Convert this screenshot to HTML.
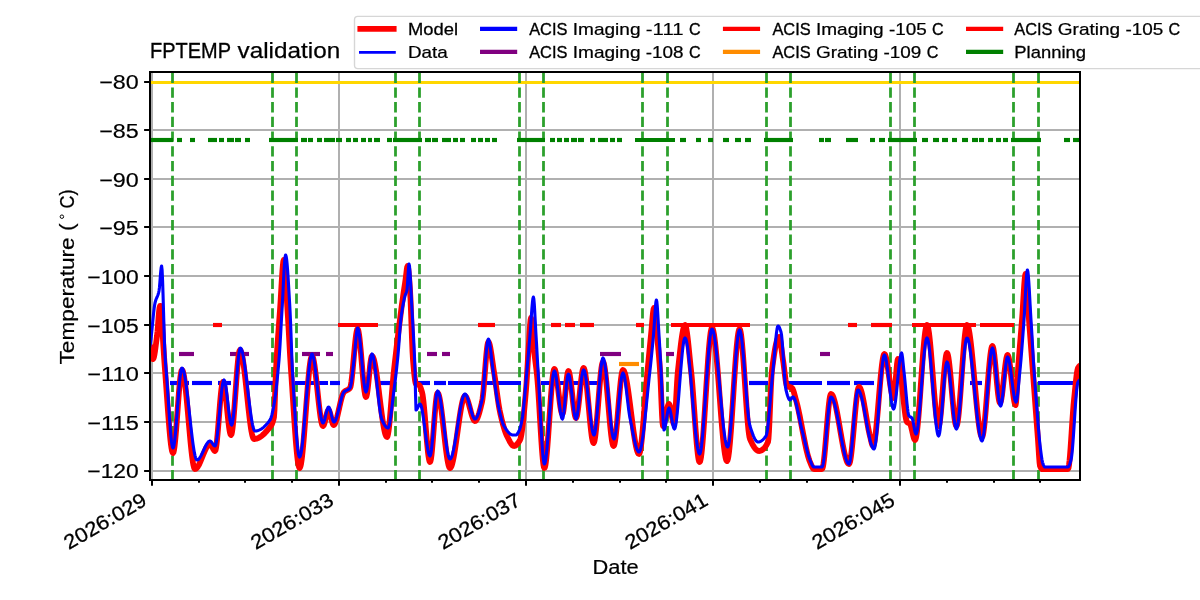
<!DOCTYPE html>
<html><head><meta charset="utf-8"><style>
html,body{margin:0;padding:0;background:#fff;width:1200px;height:600px;overflow:hidden}
svg{display:block;font-family:"Liberation Sans",sans-serif}
text{fill:#000;stroke:#000}
svg{will-change:transform}
</style></head><body>
<svg width="1200" height="600" viewBox="0 0 1200 600">
<rect x="0" y="0" width="1200" height="600" fill="#fff"/>
<defs><clipPath id="ax"><rect x="150.00" y="72.00" width="930.00" height="408.00"/></clipPath></defs>
<g clip-path="url(#ax)">
<line x1="152.00" y1="480.00" x2="152.00" y2="72.00" stroke="#b0b0b0" stroke-width="2.0" fill="none"/>
<line x1="339.00" y1="480.00" x2="339.00" y2="72.00" stroke="#b0b0b0" stroke-width="2.0" fill="none"/>
<line x1="526.00" y1="480.00" x2="526.00" y2="72.00" stroke="#b0b0b0" stroke-width="2.0" fill="none"/>
<line x1="713.00" y1="480.00" x2="713.00" y2="72.00" stroke="#b0b0b0" stroke-width="2.0" fill="none"/>
<line x1="900.00" y1="480.00" x2="900.00" y2="72.00" stroke="#b0b0b0" stroke-width="2.0" fill="none"/>
<line x1="150.00" y1="82.00" x2="1080.00" y2="82.00" stroke="#b0b0b0" stroke-width="2.0" fill="none"/>
<line x1="150.00" y1="130.00" x2="1080.00" y2="130.00" stroke="#b0b0b0" stroke-width="2.0" fill="none"/>
<line x1="150.00" y1="179.00" x2="1080.00" y2="179.00" stroke="#b0b0b0" stroke-width="2.0" fill="none"/>
<line x1="150.00" y1="227.00" x2="1080.00" y2="227.00" stroke="#b0b0b0" stroke-width="2.0" fill="none"/>
<line x1="150.00" y1="276.00" x2="1080.00" y2="276.00" stroke="#b0b0b0" stroke-width="2.0" fill="none"/>
<line x1="150.00" y1="325.00" x2="1080.00" y2="325.00" stroke="#b0b0b0" stroke-width="2.0" fill="none"/>
<line x1="150.00" y1="373.00" x2="1080.00" y2="373.00" stroke="#b0b0b0" stroke-width="2.0" fill="none"/>
<line x1="150.00" y1="422.00" x2="1080.00" y2="422.00" stroke="#b0b0b0" stroke-width="2.0" fill="none"/>
<line x1="150.00" y1="471.00" x2="1080.00" y2="471.00" stroke="#b0b0b0" stroke-width="2.0" fill="none"/>
<line x1="150.00" y1="82.50" x2="1080.00" y2="82.50" stroke="#ffd700" stroke-width="2.78"/>
<line x1="172.50" y1="480.00" x2="172.50" y2="72.00" stroke="#2ca02c" stroke-width="2.78" stroke-dasharray="10.28 4.44" stroke-dashoffset="0.4"/>
<line x1="272.50" y1="480.00" x2="272.50" y2="72.00" stroke="#2ca02c" stroke-width="2.78" stroke-dasharray="10.28 4.44" stroke-dashoffset="0.4"/>
<line x1="296.50" y1="480.00" x2="296.50" y2="72.00" stroke="#2ca02c" stroke-width="2.78" stroke-dasharray="10.28 4.44" stroke-dashoffset="0.4"/>
<line x1="395.50" y1="480.00" x2="395.50" y2="72.00" stroke="#2ca02c" stroke-width="2.78" stroke-dasharray="10.28 4.44" stroke-dashoffset="0.4"/>
<line x1="419.50" y1="480.00" x2="419.50" y2="72.00" stroke="#2ca02c" stroke-width="2.78" stroke-dasharray="10.28 4.44" stroke-dashoffset="0.4"/>
<line x1="519.50" y1="480.00" x2="519.50" y2="72.00" stroke="#2ca02c" stroke-width="2.78" stroke-dasharray="10.28 4.44" stroke-dashoffset="0.4"/>
<line x1="543.50" y1="480.00" x2="543.50" y2="72.00" stroke="#2ca02c" stroke-width="2.78" stroke-dasharray="10.28 4.44" stroke-dashoffset="0.4"/>
<line x1="642.50" y1="480.00" x2="642.50" y2="72.00" stroke="#2ca02c" stroke-width="2.78" stroke-dasharray="10.28 4.44" stroke-dashoffset="0.4"/>
<line x1="667.50" y1="480.00" x2="667.50" y2="72.00" stroke="#2ca02c" stroke-width="2.78" stroke-dasharray="10.28 4.44" stroke-dashoffset="0.4"/>
<line x1="766.50" y1="480.00" x2="766.50" y2="72.00" stroke="#2ca02c" stroke-width="2.78" stroke-dasharray="10.28 4.44" stroke-dashoffset="0.4"/>
<line x1="790.50" y1="480.00" x2="790.50" y2="72.00" stroke="#2ca02c" stroke-width="2.78" stroke-dasharray="10.28 4.44" stroke-dashoffset="0.4"/>
<line x1="890.50" y1="480.00" x2="890.50" y2="72.00" stroke="#2ca02c" stroke-width="2.78" stroke-dasharray="10.28 4.44" stroke-dashoffset="0.4"/>
<line x1="914.50" y1="480.00" x2="914.50" y2="72.00" stroke="#2ca02c" stroke-width="2.78" stroke-dasharray="10.28 4.44" stroke-dashoffset="0.4"/>
<line x1="1013.50" y1="480.00" x2="1013.50" y2="72.00" stroke="#2ca02c" stroke-width="2.78" stroke-dasharray="10.28 4.44" stroke-dashoffset="0.4"/>
<line x1="1038.50" y1="480.00" x2="1038.50" y2="72.00" stroke="#2ca02c" stroke-width="2.78" stroke-dasharray="10.28 4.44" stroke-dashoffset="0.4"/>
<line x1="151.00" y1="140" x2="173.00" y2="140" stroke="#008000" stroke-width="4.17"/>
<line x1="177.00" y1="140" x2="182.00" y2="140" stroke="#008000" stroke-width="4.17"/>
<line x1="190.00" y1="140" x2="195.00" y2="140" stroke="#008000" stroke-width="4.17"/>
<line x1="208.00" y1="140" x2="217.00" y2="140" stroke="#008000" stroke-width="4.17"/>
<line x1="219.00" y1="140" x2="224.00" y2="140" stroke="#008000" stroke-width="4.17"/>
<line x1="227.00" y1="140" x2="234.00" y2="140" stroke="#008000" stroke-width="4.17"/>
<line x1="235.00" y1="140" x2="241.00" y2="140" stroke="#008000" stroke-width="4.17"/>
<line x1="245.00" y1="140" x2="250.00" y2="140" stroke="#008000" stroke-width="4.17"/>
<line x1="269.00" y1="140" x2="298.00" y2="140" stroke="#008000" stroke-width="4.17"/>
<line x1="301.00" y1="140" x2="307.00" y2="140" stroke="#008000" stroke-width="4.17"/>
<line x1="308.00" y1="140" x2="313.00" y2="140" stroke="#008000" stroke-width="4.17"/>
<line x1="317.00" y1="140" x2="322.00" y2="140" stroke="#008000" stroke-width="4.17"/>
<line x1="324.00" y1="140" x2="335.00" y2="140" stroke="#008000" stroke-width="4.17"/>
<line x1="336.00" y1="140" x2="342.00" y2="140" stroke="#008000" stroke-width="4.17"/>
<line x1="346.00" y1="140" x2="351.00" y2="140" stroke="#008000" stroke-width="4.17"/>
<line x1="353.00" y1="140" x2="358.00" y2="140" stroke="#008000" stroke-width="4.17"/>
<line x1="361.00" y1="140" x2="366.00" y2="140" stroke="#008000" stroke-width="4.17"/>
<line x1="368.00" y1="140" x2="372.00" y2="140" stroke="#008000" stroke-width="4.17"/>
<line x1="374.00" y1="140" x2="380.00" y2="140" stroke="#008000" stroke-width="4.17"/>
<line x1="387.00" y1="140" x2="392.00" y2="140" stroke="#008000" stroke-width="4.17"/>
<line x1="393.00" y1="140" x2="422.00" y2="140" stroke="#008000" stroke-width="4.17"/>
<line x1="425.00" y1="140" x2="431.00" y2="140" stroke="#008000" stroke-width="4.17"/>
<line x1="432.00" y1="140" x2="438.00" y2="140" stroke="#008000" stroke-width="4.17"/>
<line x1="442.00" y1="140" x2="451.00" y2="140" stroke="#008000" stroke-width="4.17"/>
<line x1="453.00" y1="140" x2="458.00" y2="140" stroke="#008000" stroke-width="4.17"/>
<line x1="460.00" y1="140" x2="465.00" y2="140" stroke="#008000" stroke-width="4.17"/>
<line x1="471.00" y1="140" x2="476.00" y2="140" stroke="#008000" stroke-width="4.17"/>
<line x1="478.00" y1="140" x2="483.00" y2="140" stroke="#008000" stroke-width="4.17"/>
<line x1="485.00" y1="140" x2="490.00" y2="140" stroke="#008000" stroke-width="4.17"/>
<line x1="492.00" y1="140" x2="497.00" y2="140" stroke="#008000" stroke-width="4.17"/>
<line x1="517.00" y1="140" x2="545.00" y2="140" stroke="#008000" stroke-width="4.17"/>
<line x1="550.00" y1="140" x2="555.00" y2="140" stroke="#008000" stroke-width="4.17"/>
<line x1="557.00" y1="140" x2="562.00" y2="140" stroke="#008000" stroke-width="4.17"/>
<line x1="564.00" y1="140" x2="569.00" y2="140" stroke="#008000" stroke-width="4.17"/>
<line x1="571.00" y1="140" x2="577.00" y2="140" stroke="#008000" stroke-width="4.17"/>
<line x1="578.00" y1="140" x2="584.00" y2="140" stroke="#008000" stroke-width="4.17"/>
<line x1="590.00" y1="140" x2="595.00" y2="140" stroke="#008000" stroke-width="4.17"/>
<line x1="598.00" y1="140" x2="608.00" y2="140" stroke="#008000" stroke-width="4.17"/>
<line x1="610.00" y1="140" x2="615.00" y2="140" stroke="#008000" stroke-width="4.17"/>
<line x1="617.00" y1="140" x2="622.00" y2="140" stroke="#008000" stroke-width="4.17"/>
<line x1="635.00" y1="140" x2="675.00" y2="140" stroke="#008000" stroke-width="4.17"/>
<line x1="680.00" y1="140" x2="686.00" y2="140" stroke="#008000" stroke-width="4.17"/>
<line x1="696.00" y1="140" x2="701.00" y2="140" stroke="#008000" stroke-width="4.17"/>
<line x1="708.00" y1="140" x2="713.00" y2="140" stroke="#008000" stroke-width="4.17"/>
<line x1="723.00" y1="140" x2="729.00" y2="140" stroke="#008000" stroke-width="4.17"/>
<line x1="735.00" y1="140" x2="741.00" y2="140" stroke="#008000" stroke-width="4.17"/>
<line x1="745.00" y1="140" x2="751.00" y2="140" stroke="#008000" stroke-width="4.17"/>
<line x1="764.00" y1="140" x2="793.00" y2="140" stroke="#008000" stroke-width="4.17"/>
<line x1="819.00" y1="140" x2="824.00" y2="140" stroke="#008000" stroke-width="4.17"/>
<line x1="825.00" y1="140" x2="831.00" y2="140" stroke="#008000" stroke-width="4.17"/>
<line x1="846.00" y1="140" x2="852.00" y2="140" stroke="#008000" stroke-width="4.17"/>
<line x1="852.00" y1="140" x2="858.00" y2="140" stroke="#008000" stroke-width="4.17"/>
<line x1="870.00" y1="140" x2="875.00" y2="140" stroke="#008000" stroke-width="4.17"/>
<line x1="879.00" y1="140" x2="885.00" y2="140" stroke="#008000" stroke-width="4.17"/>
<line x1="888.00" y1="140" x2="917.00" y2="140" stroke="#008000" stroke-width="4.17"/>
<line x1="922.00" y1="140" x2="928.00" y2="140" stroke="#008000" stroke-width="4.17"/>
<line x1="933.00" y1="140" x2="939.00" y2="140" stroke="#008000" stroke-width="4.17"/>
<line x1="942.00" y1="140" x2="948.00" y2="140" stroke="#008000" stroke-width="4.17"/>
<line x1="952.00" y1="140" x2="957.00" y2="140" stroke="#008000" stroke-width="4.17"/>
<line x1="962.00" y1="140" x2="968.00" y2="140" stroke="#008000" stroke-width="4.17"/>
<line x1="972.00" y1="140" x2="978.00" y2="140" stroke="#008000" stroke-width="4.17"/>
<line x1="979.00" y1="140" x2="984.00" y2="140" stroke="#008000" stroke-width="4.17"/>
<line x1="988.00" y1="140" x2="993.00" y2="140" stroke="#008000" stroke-width="4.17"/>
<line x1="996.00" y1="140" x2="1001.00" y2="140" stroke="#008000" stroke-width="4.17"/>
<line x1="1003.00" y1="140" x2="1008.00" y2="140" stroke="#008000" stroke-width="4.17"/>
<line x1="1011.00" y1="140" x2="1041.00" y2="140" stroke="#008000" stroke-width="4.17"/>
<line x1="1064.00" y1="140" x2="1070.00" y2="140" stroke="#008000" stroke-width="4.17"/>
<line x1="1073.00" y1="140" x2="1080.00" y2="140" stroke="#008000" stroke-width="4.17"/>
<line x1="170.00" y1="383.00" x2="189.00" y2="383.00" stroke="#0000ff" stroke-width="4.17"/>
<line x1="192.00" y1="383.00" x2="212.00" y2="383.00" stroke="#0000ff" stroke-width="4.17"/>
<line x1="218.00" y1="383.00" x2="231.00" y2="383.00" stroke="#0000ff" stroke-width="4.17"/>
<line x1="246.00" y1="383.00" x2="274.00" y2="383.00" stroke="#0000ff" stroke-width="4.17"/>
<line x1="295.00" y1="383.00" x2="328.00" y2="383.00" stroke="#0000ff" stroke-width="4.17"/>
<line x1="330.00" y1="383.00" x2="340.00" y2="383.00" stroke="#0000ff" stroke-width="4.17"/>
<line x1="378.00" y1="383.00" x2="394.00" y2="383.00" stroke="#0000ff" stroke-width="4.17"/>
<line x1="418.00" y1="383.00" x2="430.00" y2="383.00" stroke="#0000ff" stroke-width="4.17"/>
<line x1="434.00" y1="383.00" x2="446.00" y2="383.00" stroke="#0000ff" stroke-width="4.17"/>
<line x1="448.00" y1="383.00" x2="521.00" y2="383.00" stroke="#0000ff" stroke-width="4.17"/>
<line x1="541.00" y1="383.00" x2="598.00" y2="383.00" stroke="#0000ff" stroke-width="4.17"/>
<line x1="749.00" y1="383.00" x2="768.00" y2="383.00" stroke="#0000ff" stroke-width="4.17"/>
<line x1="785.00" y1="383.00" x2="822.00" y2="383.00" stroke="#0000ff" stroke-width="4.17"/>
<line x1="827.00" y1="383.00" x2="850.00" y2="383.00" stroke="#0000ff" stroke-width="4.17"/>
<line x1="854.00" y1="383.00" x2="874.00" y2="383.00" stroke="#0000ff" stroke-width="4.17"/>
<line x1="970.00" y1="383.00" x2="982.00" y2="383.00" stroke="#0000ff" stroke-width="4.17"/>
<line x1="1038.00" y1="383.00" x2="1075.00" y2="383.00" stroke="#0000ff" stroke-width="4.17"/>
<line x1="179.00" y1="354.00" x2="194.00" y2="354.00" stroke="#800080" stroke-width="4.17"/>
<line x1="230.00" y1="354.00" x2="249.00" y2="354.00" stroke="#800080" stroke-width="4.17"/>
<line x1="302.00" y1="354.00" x2="320.00" y2="354.00" stroke="#800080" stroke-width="4.17"/>
<line x1="326.00" y1="354.00" x2="333.00" y2="354.00" stroke="#800080" stroke-width="4.17"/>
<line x1="427.00" y1="354.00" x2="437.00" y2="354.00" stroke="#800080" stroke-width="4.17"/>
<line x1="442.00" y1="354.00" x2="450.00" y2="354.00" stroke="#800080" stroke-width="4.17"/>
<line x1="600.00" y1="354.00" x2="621.00" y2="354.00" stroke="#800080" stroke-width="4.17"/>
<line x1="666.00" y1="354.00" x2="674.00" y2="354.00" stroke="#800080" stroke-width="4.17"/>
<line x1="820.00" y1="354.00" x2="830.00" y2="354.00" stroke="#800080" stroke-width="4.17"/>
<line x1="213.00" y1="325.00" x2="222.00" y2="325.00" stroke="#ff0000" stroke-width="4.17"/>
<line x1="338.00" y1="325.00" x2="378.00" y2="325.00" stroke="#ff0000" stroke-width="4.17"/>
<line x1="478.00" y1="325.00" x2="495.00" y2="325.00" stroke="#ff0000" stroke-width="4.17"/>
<line x1="551.00" y1="325.00" x2="561.00" y2="325.00" stroke="#ff0000" stroke-width="4.17"/>
<line x1="565.00" y1="325.00" x2="575.00" y2="325.00" stroke="#ff0000" stroke-width="4.17"/>
<line x1="580.00" y1="325.00" x2="594.00" y2="325.00" stroke="#ff0000" stroke-width="4.17"/>
<line x1="636.00" y1="325.00" x2="644.00" y2="325.00" stroke="#ff0000" stroke-width="4.17"/>
<line x1="671.00" y1="325.00" x2="750.00" y2="325.00" stroke="#ff0000" stroke-width="4.17"/>
<line x1="848.00" y1="325.00" x2="857.00" y2="325.00" stroke="#ff0000" stroke-width="4.17"/>
<line x1="871.00" y1="325.00" x2="892.00" y2="325.00" stroke="#ff0000" stroke-width="4.17"/>
<line x1="912.00" y1="325.00" x2="976.00" y2="325.00" stroke="#ff0000" stroke-width="4.17"/>
<line x1="980.00" y1="325.00" x2="1014.00" y2="325.00" stroke="#ff0000" stroke-width="4.17"/>
<line x1="619.00" y1="364.00" x2="639.00" y2="364.00" stroke="#ff8c00" stroke-width="4.17"/>
<polyline points="148.00,343.00 148.50,343.69 149.00,344.34 149.50,345.06 150.00,346.00 150.50,347.71 151.00,350.33 151.50,353.31 152.00,356.11 152.50,358.19 153.00,359.00 153.50,358.42 154.00,356.79 154.50,354.32 155.00,351.20 155.50,347.61 156.00,343.75 156.50,339.82 157.00,336.00 157.50,331.21 158.00,324.93 158.50,318.23 159.00,312.13 159.50,307.71 160.00,306.00 160.50,306.00 161.00,306.00 161.50,309.82 162.00,319.02 162.50,330.21 163.00,340.00 163.50,347.98 164.00,355.80 164.50,363.23 165.00,370.00 165.50,376.53 166.00,383.31 166.50,390.27 167.00,397.29 167.50,404.29 168.00,411.18 168.50,417.86 169.00,424.23 169.50,430.21 170.00,435.69 170.50,440.59 171.00,444.81 171.50,448.25 172.00,450.83 172.50,452.44 173.00,453.00 173.50,452.26 174.00,450.15 174.50,446.85 175.00,442.53 175.50,437.34 176.00,431.48 176.50,425.11 177.00,418.39 177.50,411.50 178.00,404.61 178.50,397.89 179.00,391.52 179.50,385.66 180.00,380.47 180.50,376.15 181.00,372.85 181.50,370.74 182.00,370.00 182.50,370.43 183.00,371.67 183.50,373.65 184.00,376.31 184.50,379.58 185.00,383.38 185.50,387.66 186.00,392.35 186.50,397.37 187.00,402.67 187.50,408.17 188.00,413.80 188.50,419.50 189.00,425.20 189.50,430.83 190.00,436.33 190.50,441.63 191.00,446.65 191.50,451.34 192.00,455.62 192.50,459.42 193.00,462.69 193.50,465.35 194.00,467.33 194.50,468.57 195.00,469.00 195.50,468.92 196.00,468.68 196.50,468.30 197.00,467.79 197.50,467.15 198.00,466.40 198.50,465.55 199.00,464.61 199.50,463.60 200.00,462.52 200.50,461.38 201.00,460.20 201.50,458.99 202.00,457.75 202.50,456.50 203.00,455.25 203.50,454.01 204.00,452.80 204.50,451.62 205.00,450.48 205.50,449.40 206.00,448.39 206.50,447.45 207.00,446.60 207.50,445.85 208.00,445.21 208.50,444.70 209.00,444.32 209.50,444.08 210.00,444.00 210.50,444.20 211.00,444.73 211.50,445.51 212.00,446.46 212.50,447.50 213.00,448.54 213.50,449.49 214.00,450.27 214.50,450.80 215.00,451.00 215.50,450.23 216.00,448.04 216.50,444.63 217.00,440.22 217.50,435.00 218.00,429.17 218.50,422.94 219.00,416.50 219.50,410.06 220.00,403.83 220.50,398.00 221.00,392.78 221.50,388.37 222.00,384.96 222.50,382.77 223.00,382.00 223.50,382.60 224.00,384.28 224.50,386.89 225.00,390.28 225.50,394.29 226.00,398.77 226.50,403.56 227.00,408.50 227.50,413.44 228.00,418.23 228.50,422.71 229.00,426.72 229.50,430.11 230.00,432.72 230.50,434.40 231.00,435.00 231.50,434.24 232.00,432.09 232.50,428.70 233.00,424.27 233.50,418.97 234.00,412.96 234.50,406.43 235.00,399.55 235.50,392.50 236.00,385.45 236.50,378.57 237.00,372.04 237.50,366.03 238.00,360.73 238.50,356.30 239.00,352.91 239.50,350.76 240.00,350.00 240.50,350.33 241.00,351.30 241.50,352.85 242.00,354.93 242.50,357.50 243.00,360.51 243.50,363.91 244.00,367.64 244.50,371.67 245.00,375.95 245.50,380.42 246.00,385.03 246.50,389.74 247.00,394.50 247.50,399.26 248.00,403.97 248.50,408.58 249.00,413.05 249.50,417.33 250.00,421.36 250.50,425.09 251.00,428.49 251.50,431.50 252.00,434.07 252.50,436.15 253.00,437.70 253.50,438.67 254.00,439.00 254.50,438.99 255.00,438.94 255.50,438.87 256.00,438.77 256.50,438.64 257.00,438.48 257.50,438.30 258.00,438.09 258.50,437.86 259.00,437.61 259.50,437.33 260.00,437.02 260.50,436.70 261.00,436.35 261.50,435.98 262.00,435.59 262.50,435.18 263.00,434.74 263.50,434.30 264.00,433.83 264.50,433.34 265.00,432.84 265.50,432.32 266.00,431.78 266.50,431.23 267.00,430.67 267.50,430.09 268.00,429.50 268.50,428.89 269.00,428.27 269.50,427.64 270.00,427.00 270.50,426.35 271.00,425.64 271.50,424.82 272.00,423.84 272.50,422.62 273.00,421.11 273.50,419.26 274.00,417.00 274.50,410.02 275.00,396.95 275.50,382.16 276.00,370.00 276.50,361.00 277.00,352.69 277.50,344.94 278.00,337.62 278.50,330.59 279.00,323.74 279.50,316.92 280.00,310.00 280.48,302.76 280.95,294.70 281.43,286.38 281.90,278.34 282.38,271.14 282.85,265.32 283.32,261.42 283.80,260.00 284.26,261.38 284.73,265.19 285.19,270.90 285.65,278.00 286.11,285.98 286.57,294.32 287.04,302.49 287.50,310.00 288.00,318.02 288.50,326.74 289.00,335.85 289.50,345.04 290.00,354.00 290.50,362.43 291.00,370.00 291.48,376.88 291.96,384.00 292.43,391.28 292.91,398.66 293.39,406.04 293.87,413.36 294.34,420.53 294.82,427.49 295.30,434.15 295.78,440.43 296.26,446.26 296.73,451.57 297.21,456.27 297.69,460.29 298.17,463.55 298.64,465.97 299.12,467.48 299.60,468.00 300.10,467.48 300.59,465.96 301.09,463.55 301.58,460.32 302.08,456.35 302.58,451.74 303.07,446.57 303.57,440.93 304.06,434.91 304.56,428.58 305.06,422.03 305.55,415.36 306.05,408.64 306.54,401.97 307.04,395.42 307.54,389.09 308.03,383.07 308.53,377.43 309.02,372.26 309.52,367.65 310.02,363.68 310.51,360.45 311.01,358.04 311.50,356.52 312.00,356.00 312.50,356.42 313.00,357.63 313.50,359.55 314.00,362.10 314.50,365.20 315.00,368.78 315.50,372.75 316.00,377.04 316.50,381.56 317.00,386.24 317.50,391.00 318.00,395.76 318.50,400.44 319.00,404.96 319.50,409.25 320.00,413.22 320.50,416.80 321.00,419.90 321.50,422.45 322.00,424.37 322.50,425.58 323.00,426.00 323.47,425.69 323.93,424.81 324.40,423.50 324.87,421.85 325.33,419.98 325.80,418.00 326.27,416.02 326.73,414.15 327.20,412.50 327.67,411.19 328.13,410.31 328.60,410.00 329.10,410.42 329.60,411.56 330.10,413.24 330.60,415.28 331.10,417.50 331.60,419.72 332.10,421.76 332.60,423.44 333.10,424.58 333.60,425.00 334.10,424.81 334.59,424.25 335.09,423.36 335.58,422.18 336.08,420.75 336.57,419.09 337.07,417.25 337.56,415.25 338.06,413.15 338.55,410.96 339.05,408.74 339.54,406.50 340.04,404.30 340.53,402.16 341.03,400.12 341.52,398.22 342.02,396.49 342.51,394.96 343.01,393.69 343.50,392.69 344.00,392.00 344.50,391.53 345.00,391.15 345.50,390.83 346.00,390.57 346.50,390.33 347.00,390.11 347.50,389.88 348.00,389.63 348.50,389.34 349.00,388.98 349.50,388.54 350.00,388.00 350.48,386.84 350.95,384.60 351.43,381.44 351.90,377.51 352.38,372.98 352.85,368.01 353.32,362.75 353.80,357.37 354.28,352.02 354.75,346.87 355.23,342.08 355.70,337.80 356.18,334.19 356.65,331.41 357.12,329.63 357.60,329.00 358.09,329.68 358.59,331.60 359.08,334.61 359.58,338.52 360.07,343.19 360.56,348.43 361.06,354.09 361.55,360.00 362.05,366.00 362.54,371.91 363.04,377.57 363.53,382.81 364.02,387.48 364.52,391.39 365.01,394.40 365.51,396.32 366.00,397.00 366.50,396.19 367.00,393.96 367.50,390.59 368.00,386.37 368.50,381.58 369.00,376.50 369.50,371.42 370.00,366.63 370.50,362.41 371.00,359.04 371.50,356.81 372.00,356.00 372.50,356.26 373.00,357.03 373.50,358.27 374.00,359.94 374.50,362.00 375.00,364.42 375.50,367.17 376.00,370.21 376.50,373.50 377.00,377.00 377.50,380.68 378.00,384.51 378.50,388.45 379.00,392.46 379.50,396.50 380.00,400.54 380.50,404.55 381.00,408.49 381.50,412.32 382.00,416.00 382.50,419.50 383.00,422.79 383.50,425.83 384.00,428.58 384.50,431.00 385.00,433.06 385.50,434.73 386.00,435.97 386.50,436.74 387.00,437.00 387.50,436.32 388.00,434.38 388.50,431.33 389.00,427.34 389.50,422.56 390.00,417.15 390.50,411.27 391.00,405.07 391.50,398.70 392.00,392.34 392.50,386.13 393.00,380.23 393.50,374.80 394.00,370.00 394.50,365.57 395.00,361.18 395.50,356.81 396.00,352.48 396.50,348.18 397.00,343.92 397.50,339.70 398.00,335.52 398.50,331.39 399.00,327.31 399.50,323.28 400.00,319.31 400.50,315.39 401.00,311.53 401.50,307.73 402.00,304.00 402.50,300.37 403.00,296.84 403.50,293.41 404.00,290.03 404.50,286.69 405.00,283.36 405.50,280.00 405.92,276.73 406.34,273.03 406.76,269.57 407.18,267.00 407.60,266.00 408.08,267.44 408.56,271.27 409.04,276.78 409.52,283.27 410.00,290.00 410.50,299.15 411.00,311.63 411.50,325.71 412.00,339.62 412.50,351.64 413.00,360.00 413.50,365.87 414.00,371.38 414.50,376.23 415.00,380.14 415.50,382.83 416.00,384.00 416.50,384.26 417.00,384.41 417.50,384.52 418.00,384.62 418.50,384.77 419.00,385.00 419.50,385.49 420.00,386.32 420.50,387.45 421.00,388.81 421.50,390.35 422.00,392.00 422.50,394.27 423.00,397.60 423.50,401.81 424.00,406.75 424.50,412.24 425.00,418.12 425.50,424.22 426.00,430.39 426.50,436.45 427.00,442.23 427.50,447.58 428.00,452.33 428.50,456.31 429.00,459.36 429.50,461.31 430.00,462.00 430.48,461.23 430.95,459.04 431.43,455.63 431.90,451.22 432.38,446.00 432.85,440.17 433.32,433.94 433.80,427.50 434.28,421.06 434.75,414.83 435.23,409.00 435.70,403.78 436.18,399.37 436.65,395.96 437.12,393.77 437.60,393.00 438.10,393.35 438.59,394.36 439.09,395.98 439.58,398.15 440.08,400.80 440.58,403.89 441.07,407.35 441.57,411.12 442.06,415.16 442.56,419.40 443.06,423.78 443.55,428.25 444.05,432.75 444.54,437.22 445.04,441.60 445.54,445.84 446.03,449.88 446.53,453.65 447.02,457.11 447.52,460.20 448.02,462.85 448.51,465.02 449.01,466.64 449.50,467.65 450.00,468.00 450.50,467.77 451.00,467.08 451.50,465.98 452.00,464.50 452.50,462.67 453.00,460.51 453.50,458.07 454.00,455.37 454.50,452.45 455.00,449.33 455.50,446.06 456.00,442.66 456.50,439.16 457.00,435.59 457.50,432.00 458.00,428.41 458.50,424.84 459.00,421.34 459.50,417.94 460.00,414.67 460.50,411.55 461.00,408.63 461.50,405.93 462.00,403.49 462.50,401.33 463.00,399.50 463.50,398.02 464.00,396.92 464.50,396.23 465.00,396.00 465.50,396.18 466.00,396.70 466.50,397.52 467.00,398.60 467.50,399.91 468.00,401.40 468.50,403.04 469.00,404.80 469.50,406.63 470.00,408.50 470.50,410.37 471.00,412.20 471.50,413.96 472.00,415.60 472.50,417.09 473.00,418.40 473.50,419.48 474.00,420.30 474.50,420.82 475.00,421.00 475.50,420.86 476.00,420.47 476.50,419.83 477.00,418.97 477.50,417.90 478.00,416.64 478.50,415.21 479.00,413.64 479.50,411.92 480.00,410.10 480.50,408.17 481.00,406.17 481.50,404.11 482.00,402.00 482.49,399.21 482.98,395.18 483.48,390.18 483.97,384.45 484.46,378.24 484.95,371.82 485.45,365.43 485.94,359.33 486.43,353.77 486.92,349.00 487.42,345.28 487.91,342.86 488.40,342.00 488.87,342.38 489.33,343.45 489.80,345.13 490.27,347.32 490.73,349.92 491.20,352.85 491.67,356.00 492.13,359.30 492.60,362.64 493.07,365.93 493.53,369.08 494.00,372.00 494.50,375.11 495.00,378.45 495.50,381.97 496.00,385.62 496.50,389.32 497.00,393.03 497.50,396.67 498.00,400.21 498.50,403.57 499.00,406.69 499.50,409.52 500.00,412.00 500.50,414.25 501.00,416.44 501.50,418.55 502.00,420.59 502.50,422.56 503.00,424.44 503.50,426.23 504.00,427.93 504.50,429.54 505.00,431.05 505.50,432.45 506.00,433.75 506.50,434.93 507.00,436.00 507.50,437.02 508.00,438.04 508.50,439.05 509.00,440.04 509.50,441.00 510.00,441.91 510.50,442.76 511.00,443.55 511.50,444.24 512.00,444.84 512.50,445.33 513.00,445.69 513.50,445.92 514.00,446.00 514.50,445.95 515.00,445.80 515.50,445.56 516.00,445.24 516.50,444.83 517.00,444.34 517.50,443.78 518.00,443.14 518.50,442.44 519.00,441.68 519.50,440.87 520.00,440.00 520.50,438.70 521.00,436.65 521.50,433.90 522.00,430.54 522.50,426.63 523.00,422.25 523.50,417.47 524.00,412.35 524.50,406.97 525.00,401.41 525.50,395.73 526.00,390.00 526.50,383.31 527.00,375.21 527.50,366.45 528.00,357.79 528.50,350.00 529.00,342.12 529.50,333.62 530.00,325.85 530.50,320.19 531.00,318.00 531.50,319.72 532.00,324.22 532.50,330.49 533.00,337.55 533.50,344.38 534.00,350.00 534.50,354.42 535.00,358.47 535.50,362.36 536.00,366.27 536.50,370.41 537.00,375.00 537.49,380.37 537.99,386.74 538.48,393.90 538.97,401.65 539.47,409.79 539.96,418.12 540.45,426.43 540.95,434.52 541.44,442.19 541.93,449.23 542.43,455.45 542.92,460.64 543.41,464.59 543.91,467.11 544.40,468.00 544.90,467.28 545.40,465.23 545.90,461.99 546.40,457.70 546.90,452.53 547.40,446.62 547.90,440.11 548.40,433.15 548.90,425.90 549.40,418.50 549.90,411.10 550.40,403.85 550.90,396.89 551.40,390.38 551.90,384.47 552.40,379.30 552.90,375.01 553.40,371.77 553.90,369.72 554.40,369.00 554.90,369.51 555.40,370.93 555.90,373.15 556.40,376.03 556.90,379.44 557.40,383.24 557.90,387.30 558.40,391.50 558.90,395.70 559.40,399.76 559.90,403.56 560.40,406.97 560.90,409.85 561.40,412.07 561.90,413.49 562.40,414.00 562.90,413.15 563.40,410.81 563.90,407.28 564.40,402.85 564.90,397.83 565.40,392.50 565.90,387.17 566.40,382.15 566.90,377.72 567.40,374.19 567.90,371.85 568.40,371.00 568.88,371.53 569.35,373.02 569.82,375.34 570.30,378.34 570.77,381.90 571.25,385.87 571.73,390.12 572.20,394.50 572.67,398.88 573.15,403.13 573.62,407.10 574.10,410.66 574.58,413.66 575.05,415.98 575.52,417.47 576.00,418.00 576.48,417.44 576.95,415.85 577.42,413.39 577.90,410.19 578.38,406.40 578.85,402.18 579.33,397.66 579.80,393.00 580.27,388.34 580.75,383.82 581.23,379.60 581.70,375.81 582.18,372.61 582.65,370.15 583.12,368.56 583.60,368.00 584.10,368.54 584.60,370.10 585.10,372.56 585.60,375.80 586.10,379.72 586.60,384.20 587.10,389.13 587.60,394.40 588.10,399.89 588.60,405.50 589.10,411.11 589.60,416.60 590.10,421.87 590.60,426.80 591.10,431.28 591.60,435.20 592.10,438.44 592.60,440.90 593.10,442.46 593.60,443.00 594.09,442.35 594.59,440.50 595.08,437.58 595.58,433.74 596.07,429.12 596.57,423.87 597.06,418.12 597.56,412.01 598.05,405.69 598.55,399.31 599.04,392.99 599.54,386.88 600.03,381.13 600.53,375.88 601.02,371.26 601.52,367.42 602.01,364.50 602.51,362.65 603.00,362.00 603.48,362.50 603.96,363.96 604.45,366.26 604.93,369.32 605.41,373.04 605.89,377.34 606.37,382.10 606.85,387.24 607.34,392.67 607.82,398.29 608.30,404.00 608.78,409.71 609.26,415.33 609.75,420.76 610.23,425.90 610.71,430.66 611.19,434.96 611.67,438.68 612.15,441.74 612.64,444.04 613.12,445.50 613.60,446.00 614.09,445.39 614.59,443.65 615.08,440.91 615.58,437.31 616.07,432.98 616.57,428.05 617.06,422.65 617.56,416.93 618.05,411.00 618.55,405.00 619.04,399.07 619.54,393.35 620.03,387.95 620.53,383.02 621.02,378.69 621.52,375.09 622.01,372.35 622.51,370.61 623.00,370.00 623.50,370.24 624.00,370.94 624.50,372.08 625.00,373.61 625.50,375.51 626.00,377.75 626.50,380.30 627.00,383.12 627.50,386.20 628.00,389.48 628.50,392.95 629.00,396.58 629.50,400.33 630.00,404.17 630.50,408.07 631.00,412.00 631.50,415.93 632.00,419.83 632.50,423.67 633.00,427.42 633.50,431.05 634.00,434.52 634.50,437.80 635.00,440.88 635.50,443.70 636.00,446.25 636.50,448.49 637.00,450.39 637.50,451.92 638.00,453.06 638.50,453.76 639.00,454.00 639.48,453.50 639.96,452.07 640.43,449.78 640.91,446.72 641.39,442.98 641.87,438.63 642.34,433.77 642.82,428.47 643.30,422.82 643.78,416.90 644.26,410.80 644.73,404.60 645.21,398.38 645.69,392.23 646.17,386.24 646.64,380.48 647.12,375.04 647.60,370.00 648.09,365.04 648.57,359.98 649.06,354.86 649.54,349.75 650.03,344.70 650.51,339.76 651.00,335.00 651.50,329.67 652.00,323.74 652.50,317.90 653.00,312.87 653.50,309.33 654.00,308.00 654.50,309.29 655.00,312.74 655.50,317.69 656.00,323.48 656.50,329.47 657.00,335.00 657.50,340.12 658.00,345.40 658.50,350.93 659.00,356.80 659.50,363.13 660.00,370.00 660.50,379.13 661.00,390.90 661.50,403.38 662.00,414.67 662.50,422.85 663.00,426.00 663.50,425.57 664.00,424.37 664.50,422.56 665.00,420.30 665.50,417.72 666.00,415.00 666.50,412.28 667.00,409.70 667.50,407.44 668.00,405.63 668.50,404.43 669.00,404.00 669.50,404.56 670.00,406.08 670.50,408.32 671.00,411.04 671.50,414.00 672.00,416.96 672.50,419.68 673.00,421.92 673.50,423.44 674.00,424.00 674.50,422.17 675.00,417.25 675.50,410.08 676.00,401.50 676.50,392.36 677.00,383.50 677.50,375.77 678.00,370.00 678.50,365.46 679.00,360.90 679.50,356.35 680.00,351.90 680.50,347.58 681.00,343.47 681.50,339.62 682.00,336.10 682.50,332.95 683.00,330.25 683.50,328.04 684.00,326.39 684.50,325.36 685.00,325.00 685.50,325.55 686.00,327.12 686.50,329.58 687.00,332.79 687.50,336.62 688.00,340.95 688.50,345.65 689.00,350.58 689.50,355.61 690.00,360.61 690.50,365.45 691.00,370.00 691.48,374.54 691.96,379.74 692.43,385.50 692.91,391.70 693.39,398.23 693.87,404.97 694.34,411.82 694.82,418.66 695.30,425.38 695.78,431.87 696.26,438.02 696.73,443.71 697.21,448.83 697.69,453.27 698.17,456.92 698.64,459.67 699.12,461.40 699.60,462.00 700.10,461.37 700.59,459.56 701.09,456.67 701.58,452.81 702.08,448.06 702.58,442.55 703.07,436.37 703.57,429.62 704.06,422.40 704.56,414.83 705.06,407.00 705.55,399.02 706.05,390.98 706.54,383.00 707.04,375.17 707.54,367.60 708.03,360.38 708.53,353.63 709.02,347.45 709.52,341.94 710.02,337.19 710.51,333.33 711.01,330.44 711.50,328.63 712.00,328.00 712.50,328.43 713.00,329.69 713.50,331.72 714.00,334.46 714.50,337.85 715.00,341.83 715.50,346.34 716.00,351.33 716.50,356.73 717.00,362.48 717.50,368.53 718.00,374.82 718.50,381.28 719.00,387.86 719.50,394.50 720.00,401.14 720.50,407.72 721.00,414.18 721.50,420.47 722.00,426.52 722.50,432.27 723.00,437.67 723.50,442.66 724.00,447.17 724.50,451.15 725.00,454.54 725.50,457.28 726.00,459.31 726.50,460.57 727.00,461.00 727.48,460.43 727.97,458.78 728.45,456.13 728.94,452.59 729.42,448.23 729.91,443.16 730.39,437.45 730.88,431.20 731.36,424.50 731.85,417.44 732.33,410.11 732.82,402.60 733.30,395.00 733.78,387.40 734.27,379.89 734.75,372.56 735.24,365.50 735.72,358.80 736.21,352.55 736.69,346.84 737.18,341.77 737.66,337.41 738.15,333.87 738.63,331.22 739.12,329.57 739.60,329.00 740.10,329.67 740.59,331.60 741.09,334.67 741.58,338.74 742.08,343.69 742.57,349.40 743.07,355.73 743.56,362.56 744.06,369.76 744.55,377.20 745.05,384.77 745.54,392.32 746.04,399.74 746.53,406.90 747.03,413.67 747.52,419.92 748.02,425.53 748.51,430.37 749.01,434.31 749.50,437.23 750.00,439.00 750.50,440.14 751.00,441.25 751.50,442.31 752.00,443.33 752.50,444.29 753.00,445.21 753.50,446.07 754.00,446.87 754.50,447.62 755.00,448.29 755.50,448.90 756.00,449.44 756.50,449.90 757.00,450.29 757.50,450.60 758.00,450.82 758.50,450.95 759.00,451.00 759.50,450.98 760.00,450.90 760.50,450.78 761.00,450.60 761.50,450.38 762.00,450.09 762.50,449.76 763.00,449.36 763.50,448.91 764.00,448.40 764.50,447.82 765.00,447.19 765.50,446.49 766.00,445.73 766.50,444.90 767.00,444.00 767.50,443.03 768.00,442.00 768.50,438.52 769.00,431.03 769.50,420.74 770.00,408.88 770.50,396.65 771.00,385.29 771.50,376.00 772.00,370.00 772.50,366.12 773.00,362.37 773.50,358.80 774.00,355.41 774.50,352.23 775.00,349.28 775.50,346.60 776.00,344.19 776.50,342.09 777.00,340.32 777.50,338.90 778.00,337.86 778.50,337.22 779.00,337.00 779.50,337.65 780.00,339.45 780.50,342.13 781.00,345.45 781.50,349.15 782.00,352.97 782.50,356.68 783.00,360.00 783.50,363.41 784.00,367.35 784.50,371.53 785.00,375.66 785.50,379.46 786.00,382.64 786.50,384.92 787.00,386.00 787.50,386.34 788.00,386.59 788.50,386.78 789.00,386.92 789.50,387.03 790.00,387.15 790.50,387.28 791.00,387.45 791.50,387.68 792.00,388.00 792.50,388.60 793.00,389.64 793.50,391.01 794.00,392.64 794.50,394.43 795.00,396.32 795.50,398.20 796.00,400.00 796.50,401.80 797.00,403.73 797.50,405.78 798.00,407.94 798.50,410.20 799.00,412.54 799.50,414.96 800.00,417.44 800.50,419.98 801.00,422.55 801.50,425.14 802.00,427.76 802.50,430.37 803.00,432.98 803.50,435.57 804.00,438.12 804.50,440.63 805.00,443.09 805.50,445.48 806.00,447.79 806.50,450.01 807.00,452.12 807.50,454.12 808.00,456.00 808.50,457.74 809.00,459.32 809.50,460.75 810.00,462.00 810.50,463.19 811.00,464.40 811.50,465.58 812.00,466.66 812.50,467.60 813.00,468.34 813.50,468.83 814.00,469.00 814.50,469.00 815.00,469.00 815.50,469.00 816.00,469.00 816.50,469.00 817.00,469.00 817.50,469.00 818.00,469.00 818.50,469.00 819.00,469.00 819.50,469.00 820.00,469.00 820.50,469.00 821.00,469.00 821.50,469.00 822.00,469.00 822.50,468.33 823.00,466.43 823.50,463.44 824.00,459.53 824.50,454.85 825.00,449.56 825.50,443.79 826.00,437.72 826.50,431.50 827.00,425.28 827.50,419.21 828.00,413.44 828.50,408.15 829.00,403.47 829.50,399.56 830.00,396.57 830.50,394.67 831.00,394.00 831.50,394.16 832.00,394.62 832.50,395.38 833.00,396.40 833.50,397.68 834.00,399.19 834.50,400.91 835.00,402.83 835.50,404.94 836.00,407.20 836.50,409.61 837.00,412.15 837.50,414.79 838.00,417.53 838.50,420.33 839.00,423.19 839.50,426.09 840.00,429.00 840.50,431.91 841.00,434.81 841.50,437.67 842.00,440.47 842.50,443.21 843.00,445.85 843.50,448.39 844.00,450.80 844.50,453.06 845.00,455.17 845.50,457.09 846.00,458.81 846.50,460.32 847.00,461.60 847.50,462.62 848.00,463.38 848.50,463.84 849.00,464.00 849.50,463.44 850.00,461.84 850.50,459.32 851.00,455.99 851.50,451.97 852.00,447.37 852.50,442.31 853.00,436.90 853.50,431.26 854.00,425.50 854.50,419.74 855.00,414.10 855.50,408.69 856.00,403.63 856.50,399.03 857.00,395.01 857.50,391.68 858.00,389.16 858.50,387.56 859.00,387.00 859.50,387.21 860.00,387.83 860.50,388.83 861.00,390.17 861.50,391.81 862.00,393.74 862.50,395.91 863.00,398.29 863.50,400.85 864.00,403.57 864.50,406.40 865.00,409.31 865.50,412.28 866.00,415.26 866.50,418.24 867.00,421.16 867.50,424.02 868.00,426.76 868.50,429.36 869.00,431.79 869.50,434.01 870.00,436.00 870.50,438.03 871.00,440.24 871.50,442.39 872.00,444.23 872.50,445.52 873.00,446.00 873.50,445.49 873.99,444.03 874.49,441.71 874.98,438.62 875.48,434.85 875.97,430.48 876.47,425.62 876.97,420.35 877.46,414.76 877.96,408.95 878.45,403.00 878.95,397.00 879.44,391.05 879.94,385.24 880.43,379.65 880.93,374.38 881.43,369.52 881.92,365.15 882.42,361.38 882.91,358.29 883.41,355.97 883.90,354.51 884.40,354.00 884.88,354.35 885.37,355.36 885.85,356.94 886.34,359.03 886.82,361.54 887.31,364.39 887.79,367.52 888.27,370.83 888.76,374.26 889.24,377.74 889.73,381.17 890.21,384.48 890.69,387.61 891.18,390.46 891.66,392.97 892.15,395.06 892.63,396.64 893.12,397.65 893.60,398.00 894.09,396.66 894.58,393.08 895.07,387.89 895.56,381.74 896.04,375.26 896.53,369.11 897.02,363.92 897.51,360.34 898.00,359.00 898.50,359.53 899.00,361.05 899.50,363.44 900.00,366.58 900.50,370.35 901.00,374.62 901.50,379.28 902.00,384.21 902.50,389.30 903.00,394.41 903.50,399.43 904.00,404.24 904.50,408.72 905.00,412.75 905.50,416.22 906.00,418.99 906.50,420.96 907.00,422.00 907.50,422.45 908.00,422.76 908.50,423.01 909.00,423.25 909.50,423.56 910.00,424.00 910.50,424.87 911.00,426.33 911.50,428.23 912.00,430.39 912.50,432.65 913.00,434.87 913.50,436.87 914.00,438.50 914.50,439.60 915.00,440.00 915.50,439.42 916.00,437.74 916.50,435.06 917.00,431.48 917.50,427.11 918.00,422.03 918.50,416.36 919.00,410.19 919.50,403.61 920.00,396.74 920.50,389.67 921.00,382.50 921.50,375.33 922.00,368.26 922.50,361.39 923.00,354.81 923.50,348.64 924.00,342.97 924.50,337.89 925.00,333.52 925.50,329.94 926.00,327.26 926.50,325.58 927.00,325.00 927.48,325.51 927.97,326.99 928.45,329.34 928.93,332.48 929.42,336.32 929.90,340.78 930.38,345.76 930.87,351.19 931.35,356.96 931.83,362.99 932.32,369.20 932.80,375.50 933.28,381.80 933.77,388.01 934.25,394.04 934.73,399.81 935.22,405.24 935.70,410.22 936.18,414.68 936.67,418.52 937.15,421.66 937.63,424.01 938.12,425.49 938.60,426.00 939.09,425.27 939.59,423.21 940.08,419.98 940.58,415.78 941.07,410.77 941.56,405.14 942.06,399.06 942.55,392.72 943.05,386.28 943.54,379.94 944.04,373.86 944.53,368.23 945.02,363.22 945.52,359.02 946.01,355.79 946.51,353.73 947.00,353.00 947.49,353.59 947.99,355.26 948.48,357.89 948.98,361.34 949.47,365.51 949.97,370.24 950.46,375.42 950.96,380.93 951.45,386.62 951.95,392.38 952.44,398.07 952.94,403.58 953.43,408.76 953.93,413.49 954.42,417.66 954.92,421.11 955.41,423.74 955.91,425.41 956.40,426.00 956.88,425.39 957.36,423.65 957.85,420.88 958.33,417.20 958.81,412.72 959.29,407.56 959.77,401.83 960.25,395.65 960.74,389.12 961.22,382.37 961.70,375.50 962.18,368.63 962.66,361.88 963.15,355.35 963.63,349.17 964.11,343.44 964.59,338.28 965.07,333.80 965.55,330.12 966.04,327.35 966.52,325.61 967.00,325.00 967.50,325.37 968.00,326.43 968.50,328.14 969.00,330.44 969.50,333.30 970.00,336.65 970.50,340.45 971.00,344.65 971.50,349.19 972.00,354.04 972.50,359.13 973.00,364.42 973.50,369.87 974.00,375.41 974.50,381.00 975.00,386.59 975.50,392.13 976.00,397.58 976.50,402.87 977.00,407.96 977.50,412.81 978.00,417.35 978.50,421.55 979.00,425.35 979.50,428.70 980.00,431.56 980.50,433.86 981.00,435.57 981.50,436.63 982.00,437.00 982.50,436.40 982.99,434.68 983.49,431.96 983.98,428.35 984.48,423.98 984.97,418.96 985.47,413.41 985.96,407.44 986.46,401.18 986.95,394.75 987.45,388.25 987.94,381.82 988.44,375.56 988.93,369.59 989.43,364.04 989.92,359.02 990.42,354.65 990.91,351.04 991.41,348.32 991.90,346.60 992.40,346.00 992.88,346.64 993.35,348.45 993.82,351.26 994.30,354.91 994.77,359.22 995.25,364.04 995.73,369.18 996.20,374.50 996.67,379.82 997.15,384.96 997.62,389.78 998.10,394.09 998.58,397.74 999.05,400.55 999.52,402.36 1000.00,403.00 1000.48,402.46 1000.95,400.94 1001.42,398.57 1001.90,395.50 1002.38,391.87 1002.85,387.81 1003.33,383.48 1003.80,379.00 1004.27,374.52 1004.75,370.19 1005.23,366.13 1005.70,362.50 1006.18,359.43 1006.65,357.06 1007.12,355.54 1007.60,355.00 1008.10,355.56 1008.60,357.15 1009.10,359.61 1009.60,362.81 1010.10,366.60 1010.60,370.82 1011.10,375.34 1011.60,380.00 1012.10,384.66 1012.60,389.18 1013.10,393.40 1013.60,397.19 1014.10,400.39 1014.60,402.85 1015.10,404.44 1015.60,405.00 1016.08,402.40 1016.56,395.80 1017.04,387.00 1017.52,377.80 1018.00,370.00 1018.50,363.36 1019.00,356.94 1019.50,350.68 1020.00,344.55 1020.50,338.46 1021.00,332.38 1021.50,326.25 1022.00,320.00 1022.45,313.67 1022.90,306.41 1023.35,298.78 1023.80,291.31 1024.25,284.56 1024.70,279.05 1025.15,275.35 1025.60,274.00 1026.09,275.75 1026.57,280.46 1027.06,287.31 1027.54,295.51 1028.03,304.22 1028.51,312.66 1029.00,320.00 1029.50,326.70 1030.00,333.38 1030.50,340.04 1031.00,346.69 1031.50,353.34 1032.00,360.00 1032.50,366.67 1033.00,373.33 1033.50,380.00 1034.00,386.67 1034.50,393.33 1035.00,400.00 1035.50,406.68 1036.00,413.37 1036.50,420.07 1037.00,426.75 1037.50,433.40 1038.00,440.00 1038.50,447.51 1039.00,455.62 1039.50,462.41 1040.00,466.00 1040.50,467.23 1041.00,468.17 1041.50,468.78 1042.00,469.00 1042.50,469.00 1043.00,469.00 1043.50,469.00 1044.00,469.00 1044.50,469.00 1045.00,469.00 1045.50,469.00 1046.00,469.00 1046.50,469.00 1047.00,469.00 1047.50,469.00 1048.00,469.00 1048.50,469.00 1049.00,469.00 1049.50,469.00 1050.00,469.00 1050.50,469.00 1051.00,469.00 1051.50,469.00 1052.00,469.00 1052.50,469.00 1053.00,469.00 1053.50,469.00 1054.00,469.00 1054.50,469.00 1055.00,469.00 1055.50,469.00 1056.00,469.00 1056.50,469.00 1057.00,469.00 1057.50,469.00 1058.00,469.00 1058.50,469.00 1059.00,469.00 1059.50,469.00 1060.00,469.00 1060.50,469.00 1061.00,469.00 1061.50,469.00 1062.00,469.00 1062.50,469.00 1063.00,469.00 1063.50,469.00 1064.00,469.00 1064.50,469.00 1065.00,469.00 1065.50,469.00 1066.00,469.00 1066.50,469.00 1067.00,469.00 1067.50,469.00 1068.00,469.00 1068.50,468.00 1069.00,465.18 1069.50,460.84 1070.00,455.26 1070.50,448.71 1071.00,441.49 1071.50,433.89 1072.00,426.18 1072.50,418.65 1073.00,411.59 1073.50,405.28 1074.00,400.00 1074.50,395.15 1075.00,390.09 1075.50,385.04 1076.00,380.23 1076.50,375.89 1077.00,372.25 1077.50,369.55 1078.00,368.00 1078.50,367.20 1079.00,366.56 1079.50,366.04 1080.00,365.61 1080.50,365.23 1081.00,364.85 1081.50,364.46 1082.00,364.00" fill="none" stroke="#ff0000" stroke-width="5.8" stroke-linejoin="round" stroke-linecap="butt"/>
<polyline points="148.00,355.00 148.48,352.69 148.96,350.47 149.44,348.21 149.92,345.76 150.40,343.00 150.86,339.76 151.32,335.85 151.78,331.46 152.24,326.78 152.70,321.99 153.16,317.28 153.62,312.83 154.08,308.85 154.54,305.51 155.00,303.00 155.50,301.06 156.00,299.53 156.50,298.29 157.00,297.17 157.50,296.03 158.00,294.72 158.50,293.09 159.00,291.00 159.43,287.72 159.87,282.69 160.30,276.96 160.73,271.57 161.17,267.57 161.60,266.00 162.09,269.92 162.57,280.28 163.06,294.98 163.54,311.90 164.03,328.95 164.51,344.02 165.00,355.00 165.50,362.57 166.00,368.94 166.50,375.00 167.00,381.52 167.50,388.54 168.00,395.89 168.50,403.38 169.00,410.84 169.50,418.09 170.00,424.96 170.50,431.26 171.00,436.81 171.50,441.44 172.00,444.96 172.50,447.21 173.00,448.00 173.50,447.29 174.00,445.26 174.50,442.07 175.00,437.90 175.50,432.91 176.00,427.26 176.50,421.11 177.00,414.64 177.50,408.00 178.00,401.36 178.50,394.89 179.00,388.74 179.50,383.09 180.00,378.10 180.50,373.93 181.00,370.74 181.50,368.71 182.00,368.00 182.50,368.30 183.00,369.17 183.50,370.58 184.00,372.47 184.50,374.81 185.00,377.57 185.50,380.69 186.00,384.14 186.50,387.87 187.00,391.85 187.50,396.04 188.00,400.38 188.50,404.85 189.00,409.41 189.50,414.00 190.00,418.59 190.50,423.15 191.00,427.62 191.50,431.96 192.00,436.15 192.50,440.13 193.00,443.86 193.50,447.31 194.00,450.43 194.50,453.19 195.00,455.53 195.50,457.42 196.00,458.83 196.50,459.70 197.00,460.00 197.50,459.92 198.00,459.68 198.50,459.30 199.00,458.79 199.50,458.16 200.00,457.43 200.50,456.61 201.00,455.71 201.50,454.75 202.00,453.73 202.50,452.68 203.00,451.59 203.50,450.50 204.00,449.41 204.50,448.32 205.00,447.27 205.50,446.25 206.00,445.29 206.50,444.39 207.00,443.57 207.50,442.84 208.00,442.21 208.50,441.70 209.00,441.32 209.50,441.08 210.00,441.00 210.50,441.14 211.00,441.52 211.50,442.08 212.00,442.76 212.50,443.50 213.00,444.24 213.50,444.92 214.00,445.48 214.50,445.86 215.00,446.00 215.50,445.41 216.00,443.74 216.50,441.11 217.00,437.67 217.50,433.55 218.00,428.89 218.50,423.82 219.00,418.48 219.50,413.00 220.00,407.52 220.50,402.18 221.00,397.11 221.50,392.45 222.00,388.33 222.50,384.89 223.00,382.26 223.50,380.59 224.00,380.00 224.47,380.51 224.95,381.93 225.43,384.15 225.90,387.03 226.38,390.44 226.85,394.24 227.32,398.30 227.80,402.50 228.28,406.70 228.75,410.76 229.22,414.56 229.70,417.97 230.17,420.85 230.65,423.07 231.12,424.49 231.60,425.00 232.09,424.31 232.58,422.36 233.07,419.30 233.56,415.28 234.04,410.48 234.53,405.04 235.02,399.12 235.51,392.89 236.00,386.50 236.49,380.11 236.98,373.88 237.47,367.96 237.96,362.52 238.44,357.72 238.93,353.70 239.42,350.64 239.91,348.69 240.40,348.00 240.89,348.27 241.37,349.06 241.86,350.32 242.35,352.03 242.83,354.15 243.32,356.63 243.81,359.45 244.29,362.56 244.78,365.93 245.27,369.52 245.75,373.29 246.24,377.22 246.73,381.25 247.21,385.36 247.70,389.50 248.19,393.64 248.67,397.75 249.16,401.78 249.65,405.71 250.13,409.48 250.62,413.07 251.11,416.44 251.59,419.55 252.08,422.37 252.57,424.85 253.05,426.97 253.54,428.68 254.03,429.94 254.51,430.73 255.00,431.00 255.50,430.99 256.00,430.95 256.50,430.88 257.00,430.79 257.50,430.67 258.00,430.53 258.50,430.36 259.00,430.17 259.50,429.95 260.00,429.71 260.50,429.44 261.00,429.15 261.50,428.83 262.00,428.49 262.50,428.13 263.00,427.74 263.50,427.33 264.00,426.90 264.50,426.44 265.00,425.97 265.50,425.47 266.00,424.94 266.50,424.40 267.00,423.83 267.50,423.25 268.00,422.64 268.50,422.01 269.00,421.36 269.50,420.69 270.00,420.00 270.50,419.09 271.00,417.79 271.50,416.18 272.00,414.30 272.50,412.22 273.00,410.00 273.50,407.55 274.00,404.74 274.50,401.60 275.00,398.12 275.50,394.34 276.00,390.24 276.50,385.86 277.00,381.20 277.50,376.27 278.00,371.09 278.50,365.66 279.00,360.00 279.50,353.40 280.00,345.46 280.50,336.66 281.00,327.49 281.50,318.45 282.00,310.00 282.45,302.14 282.90,293.32 283.35,284.18 283.80,275.32 284.25,267.35 284.70,260.90 285.15,256.58 285.60,255.00 286.09,256.05 286.58,259.03 287.07,263.64 287.56,269.62 288.04,276.67 288.53,284.51 289.02,292.87 289.51,301.46 290.00,310.00 290.48,320.20 290.96,333.09 291.44,346.87 291.92,359.77 292.40,370.00 292.88,378.34 293.36,386.70 293.84,394.99 294.32,403.12 294.80,411.00 295.28,418.56 295.76,425.69 296.24,432.31 296.72,438.33 297.20,443.67 297.68,448.23 298.16,451.94 298.64,454.69 299.12,456.41 299.60,457.00 300.10,456.52 300.59,455.13 301.09,452.91 301.58,449.93 302.08,446.29 302.58,442.05 303.07,437.30 303.57,432.11 304.06,426.56 304.56,420.74 305.06,414.73 305.55,408.59 306.05,402.41 306.54,396.27 307.04,390.26 307.54,384.44 308.03,378.89 308.53,373.70 309.02,368.95 309.52,364.71 310.02,361.07 310.51,358.09 311.01,355.87 311.50,354.48 312.00,354.00 312.50,354.41 313.00,355.61 313.50,357.50 314.00,360.01 314.50,363.07 315.00,366.60 315.50,370.51 316.00,374.74 316.50,379.19 317.00,383.81 317.50,388.50 318.00,393.19 318.50,397.81 319.00,402.26 319.50,406.49 320.00,410.40 320.50,413.93 321.00,416.99 321.50,419.50 322.00,421.39 322.50,422.59 323.00,423.00 323.47,422.69 323.93,421.81 324.40,420.50 324.87,418.85 325.33,416.98 325.80,415.00 326.27,413.02 326.73,411.15 327.20,409.50 327.67,408.19 328.13,407.31 328.60,407.00 329.09,407.35 329.58,408.31 330.07,409.74 330.56,411.51 331.05,413.48 331.55,415.52 332.04,417.49 332.53,419.26 333.02,420.69 333.51,421.65 334.00,422.00 334.50,421.81 335.00,421.25 335.50,420.38 336.00,419.21 336.50,417.80 337.00,416.17 337.50,414.37 338.00,412.43 338.50,410.40 339.00,408.29 339.50,406.17 340.00,404.05 340.50,401.98 341.00,400.00 341.50,398.14 342.00,396.45 342.50,394.95 343.00,393.68 343.50,392.68 344.00,392.00 344.50,391.54 345.00,391.16 345.50,390.86 346.00,390.61 346.50,390.40 347.00,390.19 347.50,389.97 348.00,389.72 348.50,389.42 349.00,389.05 349.50,388.58 350.00,388.00 350.50,386.73 351.00,384.37 351.50,381.14 352.00,377.28 352.50,373.01 353.00,368.55 353.50,364.14 354.00,360.00 354.45,355.92 354.90,351.03 355.35,345.74 355.80,340.47 356.25,335.64 356.70,331.68 357.15,328.99 357.60,328.00 358.09,328.64 358.59,330.45 359.08,333.28 359.58,336.96 360.07,341.35 360.56,346.29 361.06,351.62 361.55,357.18 362.05,362.82 362.54,368.38 363.04,373.71 363.53,378.65 364.02,383.04 364.52,386.72 365.01,389.55 365.51,391.36 366.00,392.00 366.50,391.25 367.00,389.19 367.50,386.06 368.00,382.15 368.50,377.71 369.00,373.00 369.50,368.29 370.00,363.85 370.50,359.94 371.00,356.81 371.50,354.75 372.00,354.00 372.50,354.43 373.00,355.66 373.50,357.61 374.00,360.19 374.50,363.33 375.00,366.93 375.50,370.92 376.00,375.21 376.50,379.73 377.00,384.37 377.50,389.07 378.00,393.74 378.50,398.30 379.00,402.65 379.50,406.73 380.00,410.45 380.50,413.71 381.00,416.45 381.50,418.57 382.00,420.00 382.50,421.04 383.00,422.05 383.50,423.02 384.00,423.94 384.50,424.80 385.00,425.58 385.50,426.27 386.00,426.86 386.50,427.34 387.00,427.70 387.50,427.92 388.00,428.00 388.50,427.54 389.00,426.22 389.50,424.15 390.00,421.45 390.50,418.22 391.00,414.57 391.50,410.61 392.00,406.45 392.50,402.20 393.00,397.97 393.50,393.87 394.00,390.00 394.50,386.22 395.00,382.29 395.50,378.20 396.00,373.95 396.50,369.51 397.00,364.88 397.50,360.05 398.00,355.00 398.50,349.21 399.00,342.54 399.50,335.54 400.00,328.74 400.50,322.71 401.00,318.00 401.50,314.29 402.00,310.91 402.50,307.82 403.00,305.01 403.50,302.44 404.00,300.10 404.50,297.96 405.00,296.00 405.50,294.46 406.00,293.28 406.50,291.96 407.00,290.00 407.50,284.57 408.00,275.78 408.50,267.61 409.00,264.00 409.50,266.20 410.00,272.07 410.50,280.49 411.00,290.36 411.50,300.57 412.00,310.00 412.50,318.51 413.00,327.00 413.50,335.92 414.00,345.75 414.50,356.96 415.00,370.00 415.50,393.53 416.00,410.00 416.50,409.74 417.00,409.06 417.50,408.10 418.00,407.00 418.50,405.90 419.00,404.94 419.50,404.26 420.00,404.00 420.50,404.38 421.00,405.46 421.50,407.16 422.00,409.41 422.50,412.12 423.00,415.23 423.50,418.65 424.00,422.30 424.50,426.11 425.00,430.00 425.50,433.89 426.00,437.70 426.50,441.35 427.00,444.77 427.50,447.88 428.00,450.59 428.50,452.84 429.00,454.54 429.50,455.62 430.00,456.00 430.48,455.27 430.95,453.21 431.43,450.00 431.90,445.84 432.38,440.92 432.85,435.43 433.32,429.56 433.80,423.50 434.28,417.44 434.75,411.57 435.23,406.08 435.70,401.16 436.18,397.00 436.65,393.79 437.12,391.73 437.60,391.00 438.10,391.32 438.59,392.24 439.09,393.70 439.58,395.67 440.08,398.07 440.58,400.87 441.07,404.01 441.57,407.43 442.06,411.09 442.56,414.94 443.06,418.91 443.55,422.96 444.05,427.04 444.54,431.09 445.04,435.06 445.54,438.91 446.03,442.57 446.53,445.99 447.02,449.13 447.52,451.93 448.02,454.33 448.51,456.30 449.01,457.76 449.50,458.68 450.00,459.00 450.50,458.79 451.00,458.17 451.50,457.18 452.00,455.84 452.50,454.19 453.00,452.24 453.50,450.03 454.00,447.60 454.50,444.96 455.00,442.15 455.50,439.19 456.00,436.12 456.50,432.96 457.00,429.75 457.50,426.50 458.00,423.25 458.50,420.04 459.00,416.88 459.50,413.81 460.00,410.85 460.50,408.04 461.00,405.40 461.50,402.97 462.00,400.76 462.50,398.81 463.00,397.16 463.50,395.82 464.00,394.83 464.50,394.21 465.00,394.00 465.50,394.18 466.00,394.70 466.50,395.52 467.00,396.60 467.50,397.91 468.00,399.40 468.50,401.04 469.00,402.80 469.50,404.63 470.00,406.50 470.50,408.37 471.00,410.20 471.50,411.96 472.00,413.60 472.50,415.09 473.00,416.40 473.50,417.48 474.00,418.30 474.50,418.82 475.00,419.00 475.50,418.86 476.00,418.47 476.50,417.83 477.00,416.97 477.50,415.91 478.00,414.65 478.50,413.23 479.00,411.65 479.50,409.94 480.00,408.11 480.50,406.19 481.00,404.18 481.50,402.11 482.00,400.00 482.49,397.19 482.98,393.11 483.48,388.03 483.97,382.21 484.46,375.90 484.95,369.36 485.45,362.86 485.94,356.65 486.43,350.98 486.92,346.13 487.42,342.34 487.91,339.88 488.40,339.00 488.86,339.59 489.32,341.23 489.78,343.73 490.24,346.92 490.70,350.61 491.16,354.60 491.62,358.73 492.08,362.79 492.54,366.61 493.00,370.00 493.50,373.48 494.00,377.10 494.50,380.80 495.00,384.53 495.50,388.23 496.00,391.82 496.50,395.25 497.00,398.47 497.50,401.41 498.00,404.00 498.50,406.39 499.00,408.74 499.50,411.03 500.00,413.25 500.50,415.37 501.00,417.38 501.50,419.26 502.00,420.98 502.50,422.54 503.00,423.90 503.50,425.06 504.00,426.00 504.50,426.81 505.00,427.60 505.50,428.37 506.00,429.11 506.50,429.83 507.00,430.51 507.50,431.16 508.00,431.77 508.50,432.34 509.00,432.86 509.50,433.33 510.00,433.76 510.50,434.12 511.00,434.43 511.50,434.67 512.00,434.85 512.50,434.96 513.00,435.00 513.50,435.00 514.00,435.00 514.50,435.00 515.00,435.00 515.50,435.00 516.00,435.00 516.50,434.84 517.00,434.40 517.50,433.73 518.00,432.91 518.50,431.98 519.00,431.00 519.50,429.86 520.00,428.43 520.50,426.70 521.00,424.71 521.50,422.47 522.00,420.00 522.50,417.00 523.00,413.23 523.50,408.82 524.00,403.88 524.50,398.55 525.00,392.92 525.50,387.14 526.00,381.31 526.50,375.56 527.00,370.00 527.50,364.44 528.00,358.65 528.50,352.72 529.00,346.74 529.50,340.81 530.00,335.00 530.49,328.82 530.97,321.81 531.46,314.61 531.94,307.88 532.43,302.27 532.91,298.43 533.40,297.00 533.83,298.85 534.27,303.77 534.70,310.80 535.13,318.99 535.57,327.37 536.00,335.00 536.50,343.45 537.00,352.44 537.50,361.47 538.00,370.00 538.49,378.39 538.98,387.42 539.48,396.88 539.97,406.53 540.46,416.14 540.95,425.48 541.45,434.32 541.94,442.43 542.43,449.58 542.92,455.54 543.42,460.09 543.91,462.98 544.40,464.00 544.90,463.33 545.40,461.40 545.90,458.35 546.40,454.33 546.90,449.47 547.40,443.91 547.90,437.80 548.40,431.26 548.90,424.45 549.40,417.50 549.90,410.55 550.40,403.74 550.90,397.20 551.40,391.09 551.90,385.53 552.40,380.67 552.90,376.65 553.40,373.60 553.90,371.67 554.40,371.00 554.90,371.54 555.40,373.06 555.90,375.43 556.40,378.50 556.90,382.13 557.40,386.19 557.90,390.52 558.40,395.00 558.90,399.48 559.40,403.81 559.90,407.87 560.40,411.50 560.90,414.57 561.40,416.94 561.90,418.46 562.40,419.00 562.90,418.11 563.40,415.67 563.90,411.97 564.40,407.33 564.90,402.07 565.40,396.50 565.90,390.93 566.40,385.67 566.90,381.03 567.40,377.33 567.90,374.89 568.40,374.00 568.88,374.51 569.35,375.93 569.82,378.15 570.30,381.03 570.77,384.44 571.25,388.24 571.73,392.30 572.20,396.50 572.67,400.70 573.15,404.76 573.62,408.56 574.10,411.97 574.58,414.85 575.05,417.07 575.52,418.49 576.00,419.00 576.48,418.45 576.95,416.89 577.42,414.48 577.90,411.34 578.38,407.64 578.85,403.50 579.33,399.07 579.80,394.50 580.27,389.93 580.75,385.50 581.23,381.36 581.70,377.66 582.18,374.52 582.65,372.11 583.12,370.55 583.60,370.00 584.10,370.43 584.59,371.66 585.09,373.60 585.58,376.18 586.08,379.30 586.57,382.89 587.07,386.85 587.56,391.11 588.06,395.58 588.55,400.18 589.05,404.82 589.54,409.42 590.04,413.89 590.53,418.15 591.03,422.11 591.52,425.70 592.02,428.82 592.51,431.40 593.01,433.34 593.50,434.57 594.00,435.00 594.50,434.31 595.00,432.36 595.50,429.30 596.00,425.28 596.50,420.48 597.00,415.04 597.50,409.12 598.00,402.89 598.50,396.50 599.00,390.11 599.50,383.88 600.00,377.96 600.50,372.52 601.00,367.72 601.50,363.70 602.00,360.64 602.50,358.69 603.00,358.00 603.50,358.49 604.00,359.89 604.50,362.11 605.00,365.06 605.50,368.65 606.00,372.79 606.50,377.38 607.00,382.34 607.50,387.58 608.00,392.99 608.50,398.50 609.00,404.01 609.50,409.42 610.00,414.66 610.50,419.62 611.00,424.21 611.50,428.35 612.00,431.94 612.50,434.89 613.00,437.11 613.50,438.51 614.00,439.00 614.50,438.41 615.00,436.74 615.50,434.11 616.00,430.67 616.50,426.55 617.00,421.89 617.50,416.82 618.00,411.48 618.50,406.00 619.00,400.52 619.50,395.18 620.00,390.11 620.50,385.45 621.00,381.33 621.50,377.89 622.00,375.26 622.50,373.59 623.00,373.00 623.50,373.50 624.00,374.90 624.50,377.10 625.00,379.96 625.50,383.36 626.00,387.18 626.50,391.29 627.00,395.58 627.50,399.91 628.00,404.17 628.50,408.23 629.00,411.97 629.50,415.27 630.00,418.00 630.50,420.45 631.00,422.97 631.50,425.53 632.00,428.11 632.50,430.69 633.00,433.23 633.50,435.72 634.00,438.12 634.50,440.41 635.00,442.57 635.50,444.58 636.00,446.39 636.50,448.00 637.00,449.37 637.50,450.48 638.00,451.31 638.50,451.82 639.00,452.00 639.50,451.70 640.00,450.81 640.50,449.39 641.00,447.46 641.50,445.07 642.00,442.24 642.50,439.03 643.00,435.47 643.50,431.59 644.00,427.44 644.50,423.05 645.00,418.46 645.50,413.71 646.00,408.84 646.50,403.88 647.00,398.87 647.50,393.86 648.00,388.88 648.50,383.96 649.00,379.15 649.50,374.48 650.00,370.00 650.50,365.51 651.00,360.83 651.50,355.96 652.00,350.93 652.50,345.75 653.00,340.43 653.50,335.00 653.98,328.73 654.47,321.21 654.95,313.52 655.43,306.72 655.92,301.86 656.40,300.00 656.83,301.67 657.27,306.13 657.70,312.53 658.13,320.03 658.57,327.80 659.00,335.00 659.50,343.03 660.00,351.68 660.50,360.74 661.00,370.00 661.50,380.90 662.00,393.82 662.50,406.97 663.00,418.57 663.50,426.85 664.00,430.00 664.50,429.38 665.00,427.71 665.50,425.25 666.00,422.26 666.50,419.00 667.00,415.74 667.50,412.75 668.00,410.29 668.50,408.62 669.00,408.00 669.49,408.49 669.98,409.83 670.47,411.83 670.96,414.31 671.45,417.07 671.95,419.93 672.44,422.69 672.93,425.17 673.42,427.17 673.91,428.51 674.40,429.00 674.88,428.45 675.36,426.88 675.85,424.39 676.33,421.07 676.81,417.04 677.29,412.39 677.77,407.22 678.25,401.65 678.74,395.77 679.22,389.69 679.70,383.50 680.18,377.31 680.66,371.23 681.15,365.35 681.63,359.78 682.11,354.61 682.59,349.96 683.07,345.93 683.55,342.61 684.04,340.12 684.52,338.55 685.00,338.00 685.49,338.38 685.97,339.48 686.46,341.25 686.95,343.64 687.43,346.59 687.92,350.06 688.41,354.00 688.89,358.35 689.38,363.06 689.87,368.07 690.35,373.35 690.84,378.83 691.33,384.47 691.81,390.21 692.30,396.00 692.79,401.79 693.27,407.53 693.76,413.17 694.25,418.65 694.73,423.93 695.22,428.94 695.71,433.65 696.19,438.00 696.68,441.94 697.17,445.41 697.65,448.36 698.14,450.75 698.63,452.52 699.11,453.62 699.60,454.00 700.10,453.42 700.59,451.73 701.09,449.03 701.58,445.42 702.08,441.00 702.58,435.86 703.07,430.09 703.57,423.79 704.06,417.06 704.56,410.00 705.06,402.70 705.55,395.25 706.05,387.75 706.54,380.30 707.04,373.00 707.54,365.94 708.03,359.21 708.53,352.91 709.02,347.14 709.52,342.00 710.02,337.58 710.51,333.97 711.01,331.27 711.50,329.58 712.00,329.00 712.49,329.34 712.98,330.33 713.46,331.92 713.95,334.07 714.44,336.74 714.92,339.89 715.41,343.47 715.90,347.44 716.39,351.75 716.88,356.37 717.36,361.24 717.85,366.34 718.34,371.60 718.83,377.00 719.31,382.48 719.80,388.00 720.29,393.52 720.77,399.00 721.26,404.40 721.75,409.66 722.24,414.76 722.73,419.63 723.21,424.25 723.70,428.56 724.19,432.53 724.68,436.11 725.16,439.26 725.65,441.93 726.14,444.08 726.62,445.67 727.11,446.66 727.60,447.00 728.10,446.41 728.60,444.70 729.10,441.97 729.60,438.33 730.10,433.88 730.60,428.72 731.10,422.95 731.60,416.67 732.10,409.98 732.60,402.99 733.10,395.80 733.60,388.50 734.10,381.20 734.60,374.01 735.10,367.02 735.60,360.33 736.10,354.05 736.60,348.28 737.10,343.12 737.60,338.67 738.10,335.03 738.60,332.30 739.10,330.59 739.60,330.00 740.10,330.56 740.59,332.17 741.09,334.74 741.58,338.15 742.08,342.30 742.57,347.09 743.07,352.43 743.56,358.19 744.06,364.29 744.55,370.62 745.05,377.08 745.54,383.56 746.04,389.96 746.53,396.18 747.03,402.12 747.52,407.67 748.02,412.73 748.51,417.19 749.01,420.96 749.50,423.93 750.00,426.00 750.50,427.59 751.00,429.14 751.50,430.64 752.00,432.10 752.50,433.49 753.00,434.81 753.50,436.05 754.00,437.20 754.50,438.25 755.00,439.19 755.50,440.01 756.00,440.70 756.50,441.25 757.00,441.66 757.50,441.91 758.00,442.00 758.50,441.97 759.00,441.90 759.50,441.77 760.00,441.59 760.50,441.37 761.00,441.10 761.50,440.78 762.00,440.42 762.50,440.01 763.00,439.56 763.50,439.07 764.00,438.53 764.50,437.96 765.00,437.34 765.50,436.69 766.00,436.00 766.50,434.73 767.00,432.42 767.50,429.19 768.00,425.18 768.50,420.51 769.00,415.31 769.50,409.71 770.00,403.84 770.50,397.82 771.00,391.78 771.50,385.85 772.00,380.16 772.50,374.83 773.00,370.00 773.50,365.09 774.00,359.61 774.50,353.82 775.00,347.97 775.50,342.32 776.00,337.13 776.50,332.64 777.00,329.12 777.50,326.82 778.00,326.00 778.50,326.22 779.00,326.84 779.50,327.79 780.00,329.01 780.50,330.44 781.00,332.00 781.50,334.75 782.00,339.45 782.50,345.63 783.00,352.81 783.50,360.50 784.00,368.24 784.50,375.53 785.00,381.91 785.50,386.89 786.00,390.00 786.50,391.97 787.00,393.82 787.50,395.52 788.00,397.01 788.50,398.25 789.00,399.19 789.50,399.79 790.00,400.00 790.50,399.78 791.00,399.22 791.50,398.50 792.00,397.78 792.50,397.22 793.00,397.00 793.50,397.20 794.00,397.77 794.50,398.67 795.00,399.88 795.50,401.36 796.00,403.08 796.50,405.01 797.00,407.10 797.50,409.33 798.00,411.66 798.50,414.06 799.00,416.50 799.50,418.94 800.00,421.35 800.50,423.69 801.00,425.94 801.50,428.05 802.00,430.00 802.50,431.90 803.00,433.88 803.50,435.92 804.00,438.00 804.50,440.11 805.00,442.23 805.50,444.33 806.00,446.41 806.50,448.45 807.00,450.43 807.50,452.32 808.00,454.12 808.50,455.81 809.00,457.36 809.50,458.76 810.00,460.00 810.50,461.18 811.00,462.38 811.50,463.56 812.00,464.65 812.50,465.59 813.00,466.34 813.50,466.82 814.00,467.00 814.50,467.00 815.00,467.00 815.50,467.00 816.00,467.00 816.50,467.00 817.00,467.00 817.50,467.00 818.00,467.00 818.50,467.00 819.00,467.00 819.50,467.00 820.00,467.00 820.50,467.00 821.00,467.00 821.50,467.00 822.00,467.00 822.50,466.38 823.00,464.60 823.50,461.81 824.00,458.17 824.50,453.80 825.00,448.85 825.50,443.47 826.00,437.81 826.50,432.00 827.00,426.19 827.50,420.53 828.00,415.15 828.50,410.20 829.00,405.83 829.50,402.19 830.00,399.40 830.50,397.62 831.00,397.00 831.50,397.15 832.00,397.60 832.50,398.32 833.00,399.30 833.50,400.52 834.00,401.96 834.50,403.61 835.00,405.46 835.50,407.47 836.00,409.64 836.50,411.94 837.00,414.37 837.50,416.90 838.00,419.52 838.50,422.20 839.00,424.94 839.50,427.71 840.00,430.50 840.50,433.29 841.00,436.06 841.50,438.80 842.00,441.48 842.50,444.10 843.00,446.63 843.50,449.06 844.00,451.36 844.50,453.53 845.00,455.54 845.50,457.39 846.00,459.04 846.50,460.48 847.00,461.70 847.50,462.68 848.00,463.40 848.50,463.85 849.00,464.00 849.50,463.34 850.00,461.46 850.50,458.52 851.00,454.66 851.50,450.04 852.00,444.81 852.50,439.13 853.00,433.14 853.50,427.00 854.00,420.86 854.50,414.87 855.00,409.19 855.50,403.96 856.00,399.34 856.50,395.48 857.00,392.54 857.50,390.66 858.00,390.00 858.50,390.17 859.00,390.66 859.50,391.46 860.00,392.54 860.50,393.87 861.00,395.44 861.50,397.23 862.00,399.22 862.50,401.38 863.00,403.68 863.50,406.12 864.00,408.67 864.50,411.30 865.00,414.00 865.50,416.74 866.00,419.50 866.50,422.26 867.00,425.00 867.50,427.70 868.00,430.33 868.50,432.88 869.00,435.32 869.50,437.62 870.00,439.78 870.50,441.77 871.00,443.56 871.50,445.13 872.00,446.46 872.50,447.54 873.00,448.34 873.50,448.83 874.00,449.00 874.50,448.38 874.99,446.60 875.49,443.79 875.98,440.07 876.48,435.55 876.97,430.36 877.47,424.63 877.96,418.47 878.46,412.00 878.95,405.35 879.45,398.65 879.94,392.00 880.44,385.53 880.93,379.37 881.43,373.64 881.92,368.45 882.42,363.93 882.91,360.21 883.41,357.40 883.90,355.62 884.40,355.00 884.88,355.43 885.37,356.67 885.85,358.61 886.34,361.17 886.82,364.25 887.31,367.75 887.79,371.59 888.27,375.66 888.76,379.87 889.24,384.13 889.73,388.34 890.21,392.41 890.69,396.25 891.18,399.75 891.66,402.83 892.15,405.39 892.63,407.33 893.12,408.57 893.60,409.00 894.10,408.37 894.60,406.59 895.10,403.83 895.60,400.25 896.10,396.01 896.60,391.28 897.10,386.22 897.60,381.00 898.10,375.78 898.60,370.72 899.10,365.99 899.60,361.75 900.10,358.17 900.60,355.41 901.10,353.63 901.60,353.00 902.08,354.34 902.56,357.78 903.04,362.45 903.52,367.48 904.00,372.00 904.50,376.53 905.00,381.69 905.50,387.23 906.00,392.90 906.50,398.45 907.00,403.66 907.50,408.26 908.00,412.01 908.50,414.67 909.00,416.00 909.50,416.47 910.00,416.79 910.50,417.02 911.00,417.25 911.50,417.55 912.00,418.00 912.50,419.11 913.00,421.12 913.50,423.71 914.00,426.55 914.50,429.33 915.00,431.71 915.50,433.37 916.00,434.00 916.50,433.42 917.00,431.76 917.50,429.13 918.00,425.63 918.50,421.38 919.00,416.47 919.50,411.03 920.00,405.15 920.50,398.95 921.00,392.53 921.50,386.00 922.00,379.47 922.50,373.05 923.00,366.85 923.50,360.97 924.00,355.53 924.50,350.62 925.00,346.37 925.50,342.87 926.00,340.24 926.50,338.58 927.00,338.00 927.48,338.50 927.97,339.93 928.45,342.21 928.93,345.26 929.42,348.99 929.90,353.31 930.38,358.15 930.87,363.41 931.35,369.01 931.83,374.86 932.32,380.89 932.80,387.00 933.28,393.11 933.77,399.14 934.25,404.99 934.73,410.59 935.22,415.85 935.70,420.69 936.18,425.01 936.67,428.74 937.15,431.79 937.63,434.07 938.12,435.50 938.60,436.00 939.09,435.26 939.59,433.17 940.08,429.90 940.58,425.64 941.07,420.56 941.56,414.85 942.06,408.69 942.55,402.26 943.05,395.74 943.54,389.31 944.04,383.15 944.53,377.44 945.02,372.36 945.52,368.10 946.01,364.83 946.51,362.74 947.00,362.00 947.49,362.54 947.99,364.07 948.48,366.48 948.98,369.66 949.47,373.48 949.97,377.82 950.46,382.58 950.96,387.63 951.45,392.86 951.95,398.14 952.44,403.37 952.94,408.42 953.43,413.18 953.93,417.52 954.42,421.34 954.92,424.52 955.41,426.93 955.91,428.46 956.40,429.00 956.88,428.45 957.36,426.88 957.85,424.39 958.33,421.07 958.81,417.04 959.29,412.39 959.77,407.22 960.25,401.65 960.74,395.77 961.22,389.69 961.70,383.50 962.18,377.31 962.66,371.23 963.15,365.35 963.63,359.78 964.11,354.61 964.59,349.96 965.07,345.93 965.55,342.61 966.04,340.12 966.52,338.55 967.00,338.00 967.50,338.34 968.00,339.31 968.50,340.88 969.00,343.01 969.50,345.63 970.00,348.71 970.50,352.21 971.00,356.07 971.50,360.25 972.00,364.70 972.50,369.39 973.00,374.26 973.50,379.26 974.00,384.36 974.50,389.50 975.00,394.64 975.50,399.74 976.00,404.74 976.50,409.61 977.00,414.30 977.50,418.75 978.00,422.93 978.50,426.79 979.00,430.29 979.50,433.37 980.00,435.99 980.50,438.12 981.00,439.69 981.50,440.66 982.00,441.00 982.50,440.39 982.99,438.63 983.49,435.85 983.98,432.16 984.48,427.69 984.97,422.56 985.47,416.89 985.96,410.79 986.46,404.40 986.95,397.82 987.45,391.18 987.94,384.60 988.44,378.21 988.93,372.11 989.43,366.44 989.92,361.31 990.42,356.84 990.91,353.15 991.41,350.37 991.90,348.61 992.40,348.00 992.88,348.58 993.36,350.22 993.85,352.78 994.33,356.12 994.81,360.10 995.29,364.57 995.78,369.40 996.26,374.44 996.74,379.56 997.22,384.60 997.71,389.43 998.19,393.90 998.67,397.88 999.15,401.22 999.64,403.78 1000.12,405.42 1000.60,406.00 1001.10,405.29 1001.60,403.29 1002.10,400.21 1002.60,396.29 1003.10,391.71 1003.60,386.71 1004.10,381.50 1004.60,376.29 1005.10,371.29 1005.60,366.71 1006.10,362.79 1006.60,359.71 1007.10,357.71 1007.60,357.00 1008.09,357.45 1008.59,358.72 1009.08,360.71 1009.58,363.30 1010.07,366.39 1010.56,369.86 1011.06,373.61 1011.55,377.52 1012.05,381.48 1012.54,385.39 1013.04,389.14 1013.53,392.61 1014.02,395.70 1014.52,398.29 1015.01,400.28 1015.51,401.55 1016.00,402.00 1016.50,401.16 1017.00,398.83 1017.50,395.30 1018.00,390.88 1018.50,385.84 1019.00,380.49 1019.50,375.11 1020.00,370.00 1020.50,364.86 1021.00,359.24 1021.50,353.22 1022.00,346.89 1022.50,340.33 1023.00,333.60 1023.50,326.80 1024.00,320.00 1024.49,312.40 1024.97,303.38 1025.46,293.88 1025.94,284.85 1026.43,277.23 1026.91,271.96 1027.40,270.00 1027.85,271.40 1028.30,275.25 1028.75,281.01 1029.20,288.16 1029.65,296.17 1030.10,304.50 1030.55,312.62 1031.00,320.00 1031.50,327.95 1032.00,336.42 1032.50,345.14 1033.00,353.83 1033.50,362.21 1034.00,370.00 1034.50,377.24 1035.00,384.19 1035.50,390.89 1036.00,397.39 1036.50,403.74 1037.00,410.00 1037.50,416.34 1038.00,422.78 1038.50,429.09 1039.00,435.04 1039.50,440.42 1040.00,445.00 1040.50,449.10 1041.00,453.06 1041.50,456.71 1042.00,459.86 1042.50,462.35 1043.00,464.00 1043.50,465.12 1044.00,466.08 1044.50,466.75 1045.00,467.00 1045.50,467.00 1046.00,467.00 1046.50,467.00 1047.00,467.00 1047.50,467.00 1048.00,467.00 1048.50,467.00 1049.00,467.00 1049.50,467.00 1050.00,467.00 1050.50,467.00 1051.00,467.00 1051.50,467.00 1052.00,467.00 1052.50,467.00 1053.00,467.00 1053.50,467.00 1054.00,467.00 1054.50,467.00 1055.00,467.00 1055.50,467.00 1056.00,467.00 1056.50,467.00 1057.00,467.00 1057.50,467.00 1058.00,467.00 1058.50,467.00 1059.00,467.00 1059.50,467.00 1060.00,467.00 1060.50,467.00 1061.00,467.00 1061.50,467.00 1062.00,467.00 1062.50,467.00 1063.00,467.00 1063.50,467.00 1064.00,467.00 1064.50,467.00 1065.00,467.00 1065.50,467.00 1066.00,467.00 1066.50,467.00 1067.00,467.00 1067.50,467.00 1068.00,467.00 1068.50,466.73 1069.00,465.97 1069.50,464.83 1070.00,463.39 1070.50,461.75 1071.00,460.00 1071.50,457.39 1072.00,453.28 1072.50,447.93 1073.00,441.61 1073.50,434.57 1074.00,427.08 1074.50,419.39 1075.00,411.76 1075.50,404.47 1076.00,397.76 1076.50,391.89 1077.00,387.14 1077.50,383.75 1078.00,382.00 1078.50,381.23 1079.00,380.60 1079.50,380.09 1080.00,379.65 1080.50,379.25 1081.00,378.87 1081.50,378.46 1082.00,378.00" fill="none" stroke="#0000ff" stroke-width="3.1" stroke-linejoin="round" stroke-linecap="butt"/>
</g>
<line x1="150" y1="72" x2="150" y2="480" stroke="#000" stroke-width="2" stroke-linecap="square"/>
<line x1="1080" y1="72" x2="1080" y2="480" stroke="#000" stroke-width="2" stroke-linecap="square"/>
<line x1="150" y1="72" x2="1080" y2="72" stroke="#000" stroke-width="2" stroke-linecap="square"/>
<line x1="150" y1="480" x2="1080" y2="480" stroke="#000" stroke-width="2" stroke-linecap="square"/>
<line x1="144.10" y1="82.00" x2="150.00" y2="82.00" stroke="#000" stroke-width="2"/>
<text x="99.23" y="89.40" font-family="Liberation Sans, sans-serif" font-size="19.9" stroke-width="0.18" textLength="39.57" lengthAdjust="spacingAndGlyphs">−80</text>
<line x1="144.10" y1="130.00" x2="150.00" y2="130.00" stroke="#000" stroke-width="2"/>
<text x="99.23" y="138.03" font-family="Liberation Sans, sans-serif" font-size="19.9" stroke-width="0.18" textLength="39.57" lengthAdjust="spacingAndGlyphs">−85</text>
<line x1="144.10" y1="179.00" x2="150.00" y2="179.00" stroke="#000" stroke-width="2"/>
<text x="99.23" y="186.65" font-family="Liberation Sans, sans-serif" font-size="19.9" stroke-width="0.18" textLength="39.57" lengthAdjust="spacingAndGlyphs">−90</text>
<line x1="144.10" y1="227.00" x2="150.00" y2="227.00" stroke="#000" stroke-width="2"/>
<text x="99.23" y="235.28" font-family="Liberation Sans, sans-serif" font-size="19.9" stroke-width="0.18" textLength="39.57" lengthAdjust="spacingAndGlyphs">−95</text>
<line x1="144.10" y1="276.00" x2="150.00" y2="276.00" stroke="#000" stroke-width="2"/>
<text x="87.30" y="283.90" font-family="Liberation Sans, sans-serif" font-size="19.9" stroke-width="0.20" textLength="51.50" lengthAdjust="spacingAndGlyphs">−100</text>
<line x1="144.10" y1="325.00" x2="150.00" y2="325.00" stroke="#000" stroke-width="2"/>
<text x="87.30" y="332.53" font-family="Liberation Sans, sans-serif" font-size="19.9" stroke-width="0.20" textLength="51.50" lengthAdjust="spacingAndGlyphs">−105</text>
<line x1="144.10" y1="373.00" x2="150.00" y2="373.00" stroke="#000" stroke-width="2"/>
<text x="87.30" y="381.15" font-family="Liberation Sans, sans-serif" font-size="19.9" stroke-width="0.16" textLength="51.50" lengthAdjust="spacingAndGlyphs">−110</text>
<line x1="144.10" y1="422.00" x2="150.00" y2="422.00" stroke="#000" stroke-width="2"/>
<text x="87.30" y="429.78" font-family="Liberation Sans, sans-serif" font-size="19.9" stroke-width="0.16" textLength="51.50" lengthAdjust="spacingAndGlyphs">−115</text>
<line x1="144.10" y1="471.00" x2="150.00" y2="471.00" stroke="#000" stroke-width="2"/>
<text x="87.30" y="478.40" font-family="Liberation Sans, sans-serif" font-size="19.9" stroke-width="0.20" textLength="51.50" lengthAdjust="spacingAndGlyphs">−120</text>
<line x1="152.00" y1="480.00" x2="152.00" y2="485.70" stroke="#000" stroke-width="2"/>
<text x="0" y="0" transform="translate(148.15,504.24) rotate(-30)" text-anchor="end" font-family="Liberation Sans, sans-serif" font-size="20.3" stroke-width="0.27" textLength="91.62" lengthAdjust="spacingAndGlyphs">2026:029</text>
<line x1="199.00" y1="480.00" x2="199.00" y2="482.80" stroke="#000" stroke-width="2"/>
<line x1="245.00" y1="480.00" x2="245.00" y2="482.80" stroke="#000" stroke-width="2"/>
<line x1="292.00" y1="480.00" x2="292.00" y2="482.80" stroke="#000" stroke-width="2"/>
<line x1="339.00" y1="480.00" x2="339.00" y2="485.70" stroke="#000" stroke-width="2"/>
<text x="0" y="0" transform="translate(335.19,504.24) rotate(-30)" text-anchor="end" font-family="Liberation Sans, sans-serif" font-size="20.3" stroke-width="0.27" textLength="91.62" lengthAdjust="spacingAndGlyphs">2026:033</text>
<line x1="386.00" y1="480.00" x2="386.00" y2="482.80" stroke="#000" stroke-width="2"/>
<line x1="432.00" y1="480.00" x2="432.00" y2="482.80" stroke="#000" stroke-width="2"/>
<line x1="479.00" y1="480.00" x2="479.00" y2="482.80" stroke="#000" stroke-width="2"/>
<line x1="526.00" y1="480.00" x2="526.00" y2="485.70" stroke="#000" stroke-width="2"/>
<text x="0" y="0" transform="translate(522.23,504.24) rotate(-30)" text-anchor="end" font-family="Liberation Sans, sans-serif" font-size="20.3" stroke-width="0.27" textLength="91.62" lengthAdjust="spacingAndGlyphs">2026:037</text>
<line x1="573.00" y1="480.00" x2="573.00" y2="482.80" stroke="#000" stroke-width="2"/>
<line x1="620.00" y1="480.00" x2="620.00" y2="482.80" stroke="#000" stroke-width="2"/>
<line x1="666.00" y1="480.00" x2="666.00" y2="482.80" stroke="#000" stroke-width="2"/>
<line x1="713.00" y1="480.00" x2="713.00" y2="485.70" stroke="#000" stroke-width="2"/>
<text x="0" y="0" transform="translate(709.27,504.24) rotate(-30)" text-anchor="end" font-family="Liberation Sans, sans-serif" font-size="20.3" stroke-width="0.27" textLength="91.62" lengthAdjust="spacingAndGlyphs">2026:041</text>
<line x1="760.00" y1="480.00" x2="760.00" y2="482.80" stroke="#000" stroke-width="2"/>
<line x1="807.00" y1="480.00" x2="807.00" y2="482.80" stroke="#000" stroke-width="2"/>
<line x1="853.00" y1="480.00" x2="853.00" y2="482.80" stroke="#000" stroke-width="2"/>
<line x1="900.00" y1="480.00" x2="900.00" y2="485.70" stroke="#000" stroke-width="2"/>
<text x="0" y="0" transform="translate(896.31,504.24) rotate(-30)" text-anchor="end" font-family="Liberation Sans, sans-serif" font-size="20.3" stroke-width="0.27" textLength="91.62" lengthAdjust="spacingAndGlyphs">2026:045</text>
<line x1="947.00" y1="480.00" x2="947.00" y2="482.80" stroke="#000" stroke-width="2"/>
<line x1="994.00" y1="480.00" x2="994.00" y2="482.80" stroke="#000" stroke-width="2"/>
<line x1="1040.00" y1="480.00" x2="1040.00" y2="482.80" stroke="#000" stroke-width="2"/>
<text x="592.52" y="573.8" font-family="Liberation Sans, sans-serif" font-size="19.9" stroke-width="0.2" textLength="46.16" lengthAdjust="spacingAndGlyphs">Date</text>
<text x="150.00" y="57.90" font-size="22.10" stroke-width="0.35" textLength="80.96" lengthAdjust="spacingAndGlyphs">FPTEMP</text>
<text x="237.58" y="57.90" font-size="22.10" stroke-width="0.25" textLength="102.56" lengthAdjust="spacingAndGlyphs">validation</text>
<text x="0" y="0" transform="translate(74.20,364.50) rotate(-90)" font-family="Liberation Sans, sans-serif" font-size="20.60" stroke-width="0.2" textLength="141.00" lengthAdjust="spacingAndGlyphs">Temperature (</text>
<circle cx="61.9" cy="216.7" r="1.75" fill="none" stroke="#000" stroke-width="0.95"/>
<text x="0" y="0" transform="translate(74.20,208.60) rotate(-90)" font-family="Liberation Sans, sans-serif" font-size="20.60" stroke-width="0.25" textLength="19.00" lengthAdjust="spacingAndGlyphs">C)</text>
<rect x="354.5" y="16.4" width="900" height="52.2" rx="3.33" ry="3.33" fill="#fff" stroke="#d6d6d6" stroke-width="1.39"/>
<line x1="360.20" y1="28.90" x2="393.80" y2="28.90" stroke="#ff0000" stroke-width="5.56" stroke-linecap="square"/>
<text x="408.00" y="35.00" font-size="17.00" stroke-width="0.27" textLength="50.05" lengthAdjust="spacingAndGlyphs">Model</text>
<line x1="360.40" y1="52.45" x2="394.40" y2="52.45" stroke="#0000ff" stroke-width="2.78" stroke-linecap="square"/>
<text x="408.00" y="57.50" font-size="17.00" stroke-width="0.24" textLength="39.80" lengthAdjust="spacingAndGlyphs">Data</text>
<line x1="482.10" y1="28.85" x2="515.10" y2="28.85" stroke="#0000ff" stroke-width="4.17" stroke-linecap="square"/>
<text x="529.20" y="35.00" font-size="17.00" stroke-width="0.35" textLength="38.25" lengthAdjust="spacingAndGlyphs">ACIS</text>
<text x="572.75" y="35.00" font-size="17.00" stroke-width="0.23" textLength="67.73" lengthAdjust="spacingAndGlyphs">Imaging</text>
<text x="645.78" y="35.00" font-size="17.00" stroke-width="0.15" textLength="37.83" lengthAdjust="spacingAndGlyphs">-111</text>
<text x="688.91" y="35.00" font-size="17.00" stroke-width="0.35" textLength="11.64" lengthAdjust="spacingAndGlyphs">C</text>
<line x1="482.10" y1="51.95" x2="515.10" y2="51.95" stroke="#800080" stroke-width="4.17" stroke-linecap="square"/>
<text x="529.20" y="57.50" font-size="17.00" stroke-width="0.35" textLength="38.25" lengthAdjust="spacingAndGlyphs">ACIS</text>
<text x="572.75" y="57.50" font-size="17.00" stroke-width="0.23" textLength="67.73" lengthAdjust="spacingAndGlyphs">Imaging</text>
<text x="645.78" y="57.50" font-size="17.00" stroke-width="0.24" textLength="37.83" lengthAdjust="spacingAndGlyphs">-108</text>
<text x="688.91" y="57.50" font-size="17.00" stroke-width="0.35" textLength="11.64" lengthAdjust="spacingAndGlyphs">C</text>
<line x1="725.00" y1="28.85" x2="758.00" y2="28.85" stroke="#ff0000" stroke-width="4.17" stroke-linecap="square"/>
<text x="772.40" y="35.00" font-size="17.00" stroke-width="0.35" textLength="38.25" lengthAdjust="spacingAndGlyphs">ACIS</text>
<text x="815.95" y="35.00" font-size="17.00" stroke-width="0.23" textLength="67.73" lengthAdjust="spacingAndGlyphs">Imaging</text>
<text x="888.98" y="35.00" font-size="17.00" stroke-width="0.24" textLength="37.83" lengthAdjust="spacingAndGlyphs">-105</text>
<text x="932.11" y="35.00" font-size="17.00" stroke-width="0.35" textLength="11.64" lengthAdjust="spacingAndGlyphs">C</text>
<line x1="725.00" y1="51.95" x2="758.00" y2="51.95" stroke="#ff8c00" stroke-width="4.17" stroke-linecap="square"/>
<text x="772.40" y="57.50" font-size="17.00" stroke-width="0.35" textLength="38.25" lengthAdjust="spacingAndGlyphs">ACIS</text>
<text x="815.95" y="57.50" font-size="17.00" stroke-width="0.23" textLength="62.30" lengthAdjust="spacingAndGlyphs">Grating</text>
<text x="883.55" y="57.50" font-size="17.00" stroke-width="0.24" textLength="37.83" lengthAdjust="spacingAndGlyphs">-109</text>
<text x="926.68" y="57.50" font-size="17.00" stroke-width="0.35" textLength="11.64" lengthAdjust="spacingAndGlyphs">C</text>
<line x1="968.10" y1="28.85" x2="1001.10" y2="28.85" stroke="#ff0000" stroke-width="4.17" stroke-linecap="square"/>
<text x="1014.30" y="35.00" font-size="17.00" stroke-width="0.35" textLength="38.25" lengthAdjust="spacingAndGlyphs">ACIS</text>
<text x="1057.85" y="35.00" font-size="17.00" stroke-width="0.23" textLength="62.30" lengthAdjust="spacingAndGlyphs">Grating</text>
<text x="1125.45" y="35.00" font-size="17.00" stroke-width="0.24" textLength="37.83" lengthAdjust="spacingAndGlyphs">-105</text>
<text x="1168.58" y="35.00" font-size="17.00" stroke-width="0.35" textLength="11.64" lengthAdjust="spacingAndGlyphs">C</text>
<line x1="968.10" y1="51.95" x2="1001.10" y2="51.95" stroke="#008000" stroke-width="4.17" stroke-linecap="square"/>
<text x="1014.30" y="57.50" font-size="17.00" stroke-width="0.26" textLength="71.81" lengthAdjust="spacingAndGlyphs">Planning</text>
</svg>
</body></html>
